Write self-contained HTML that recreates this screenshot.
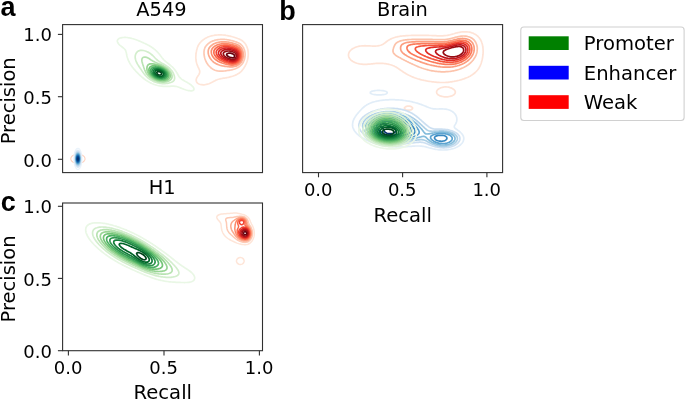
<!DOCTYPE html>
<html><head><meta charset="utf-8"><title>Precision-Recall density</title>
<style>html,body{margin:0;padding:0;background:#fff}svg{display:block;will-change:transform}text{fill:#000}</style>
</head><body>
<svg width="685" height="401" viewBox="0 0 685 401">
<rect width="685" height="401" fill="#ffffff"/>
<g fill="none" stroke-width="1.1" stroke-linejoin="round"><path d="M80.5,163.0L79.5,163.2L78.5,163.3L77.5,163.3L76.5,163.3L75.5,163.1L75.0,163.0L74.0,162.6L73.5,162.4L72.8,162.0L72.2,161.5L71.6,161.0L71.3,160.5L71.0,160.0L70.8,159.0L70.9,158.0L71.1,157.5L71.5,156.8L72.0,156.2L72.5,155.8L73.0,155.5L74.0,155.0L74.5,154.8L75.5,154.5L76.0,154.4L77.0,154.3L78.0,154.2L79.0,154.3L80.0,154.5L80.5,154.6L81.5,154.9L82.0,155.1L82.8,155.5L83.5,156.0L84.0,156.4L84.5,157.0L84.7,157.5L85.0,158.4L85.0,159.0L85.0,159.5L84.5,160.5L84.2,161.0L83.6,161.5L83.0,162.0L82.5,162.3L82.0,162.5L81.0,162.9L80.5,163.0Z" stroke="#fdd3c1"/></g>
<g fill="none" stroke-width="1.2" stroke-linejoin="round"><path d="M78.5,169.3L77.5,169.4L76.8,169.0L76.3,168.5L75.9,168.0L75.5,167.3L75.1,166.5L75.0,166.0L74.6,165.0L74.5,164.3L74.3,163.5L74.1,162.5L74.0,161.5L74.0,160.8L73.9,160.0L73.9,159.0L73.9,158.0L74.0,157.0L74.0,156.5L74.1,155.5L74.2,154.5L74.4,153.5L74.6,153.0L74.8,152.0L75.0,151.5L75.4,150.5L75.7,150.0L76.0,149.5L76.5,148.9L77.0,148.5L78.0,148.2L78.8,148.5L79.4,149.0L79.8,149.5L80.1,150.0L80.5,150.8L80.8,151.5L81.0,152.2L81.3,153.0L81.5,154.0L81.5,154.5L81.7,155.5L81.8,156.5L81.9,157.5L81.9,158.5L81.9,159.5L81.9,160.5L81.8,161.5L81.7,162.5L81.5,163.3L81.4,164.0L81.2,165.0L81.0,165.5L80.7,166.5L80.4,167.0L80.0,167.8L79.5,168.5L79.0,169.0L78.5,169.3Z" stroke="#eaf3fb"/><path d="M78.0,167.5L77.5,167.5L76.8,167.0L76.4,166.5L76.0,165.9L75.6,165.0L75.4,164.5L75.1,163.5L75.0,162.9L74.8,162.0L74.7,161.0L74.6,160.0L74.6,159.0L74.6,158.0L74.7,157.0L74.8,156.0L74.9,155.0L75.0,154.5L75.3,153.5L75.5,152.9L75.8,152.0L76.1,151.5L76.5,150.9L77.0,150.4L78.0,150.1L78.9,150.5L79.4,151.0L79.7,151.5L80.0,152.1L80.4,153.0L80.5,153.5L80.8,154.5L80.9,155.5L81.0,156.0L81.1,157.0L81.2,158.0L81.2,159.0L81.2,160.0L81.1,161.0L81.0,161.6L80.9,162.5L80.7,163.5L80.5,164.1L80.2,165.0L80.0,165.5L79.5,166.4L79.0,167.0L78.5,167.4L78.0,167.5Z" stroke="#deebf7"/><path d="M78.0,166.5L77.5,166.5L76.9,166.0L76.5,165.5L76.0,164.6L75.7,164.0L75.5,163.1L75.3,162.5L75.2,161.5L75.1,160.5L75.0,159.5L75.0,158.5L75.0,157.5L75.1,156.5L75.3,155.5L75.5,154.5L75.6,154.0L76.0,153.0L76.2,152.5L76.5,152.0L77.0,151.5L78.0,151.1L78.8,151.5L79.3,152.0L79.6,152.5L80.0,153.5L80.2,154.0L80.4,155.0L80.5,155.5L80.7,156.5L80.8,157.5L80.8,158.5L80.8,159.5L80.8,160.5L80.6,161.5L80.5,162.2L80.3,163.0L80.0,164.0L79.9,164.5L79.5,165.2L79.0,166.0L78.5,166.4L78.0,166.5Z" stroke="#d2e3f3"/><path d="M78.5,165.6L77.5,165.7L77.0,165.4L76.5,164.7L76.1,164.0L76.0,163.5L75.7,162.5L75.5,161.6L75.4,161.0L75.3,160.0L75.3,159.0L75.3,158.0L75.3,157.0L75.5,156.0L75.6,155.5L75.8,154.5L76.0,154.0L76.4,153.0L76.8,152.5L77.3,152.0L78.0,151.8L78.5,152.0L79.0,152.5L79.5,153.3L79.8,154.0L80.0,154.6L80.2,155.5L80.4,156.5L80.5,157.5L80.5,158.0L80.5,159.0L80.5,159.7L80.5,160.5L80.3,161.5L80.1,162.5L80.0,163.0L79.7,164.0L79.4,164.5L79.0,165.2L78.5,165.6Z" stroke="#c6dbef"/><path d="M78.0,165.2L77.4,165.0L76.8,164.5L76.5,164.0L76.1,163.0L75.9,162.5L75.7,161.5L75.6,160.5L75.5,159.5L75.5,158.5L75.5,157.5L75.7,156.5L75.8,155.5L76.0,154.9L76.3,154.0L76.6,153.5L77.0,152.9L77.5,152.5L78.2,152.5L78.9,153.0L79.2,153.5L79.5,154.0L79.8,155.0L80.0,155.7L80.1,156.5L80.3,157.5L80.3,158.5L80.3,159.5L80.2,160.5L80.1,161.5L80.0,162.0L79.7,163.0L79.5,163.6L79.0,164.5L78.5,165.0L78.0,165.2Z" stroke="#b2d2e8"/><path d="M78.0,164.7L77.4,164.5L76.9,164.0L76.5,163.3L76.2,162.5L76.0,161.7L75.9,161.0L75.7,160.0L75.7,159.0L75.7,158.0L75.8,157.0L76.0,156.0L76.1,155.5L76.4,154.5L76.6,154.0L77.0,153.5L77.7,153.0L78.1,153.0L78.8,153.5L79.2,154.0L79.5,154.8L79.7,155.5L79.9,156.5L80.0,157.1L80.1,158.0L80.1,159.0L80.1,160.0L80.0,160.5L79.9,161.5L79.6,162.5L79.4,163.0L79.0,163.9L78.5,164.4L78.0,164.7Z" stroke="#9dcae1"/><path d="M78.0,164.2L77.4,164.0L76.9,163.5L76.5,162.7L76.3,162.0L76.1,161.0L76.0,160.5L75.9,159.5L75.9,158.5L75.9,157.5L76.0,157.0L76.2,156.0L76.5,155.0L76.7,154.5L77.0,154.0L77.6,153.5L78.2,153.5L78.8,154.0L79.1,154.5L79.5,155.5L79.6,156.0L79.8,157.0L79.9,158.0L79.9,159.0L79.9,160.0L79.8,161.0L79.5,162.0L79.4,162.5L79.0,163.3L78.5,163.9L78.0,164.2Z" stroke="#84bcdb"/><path d="M78.0,163.7L77.4,163.5L76.9,163.0L76.5,162.0L76.3,161.5L76.2,160.5L76.1,159.5L76.1,158.5L76.1,157.5L76.3,156.5L76.5,155.6L76.7,155.0L77.0,154.5L77.5,154.0L78.3,154.0L78.8,154.5L79.1,155.0L79.4,156.0L79.5,156.5L79.7,157.5L79.8,158.5L79.7,159.5L79.6,160.5L79.5,161.3L79.3,162.0L79.0,162.8L78.5,163.5L78.0,163.7Z" stroke="#6aaed6"/><path d="M78.5,163.0L77.5,163.2L77.0,162.6L76.7,162.0L76.5,161.3L76.3,160.5L76.2,159.5L76.2,158.5L76.3,157.5L76.4,156.5L76.6,156.0L77.0,155.0L77.4,154.5L78.0,154.3L78.5,154.6L79.0,155.4L79.2,156.0L79.5,157.0L79.5,157.5L79.6,158.5L79.6,159.5L79.5,160.2L79.4,161.0L79.1,162.0L78.8,162.5L78.5,163.0Z" stroke="#56a0ce"/><path d="M78.5,162.6L77.5,162.8L77.0,162.1L76.8,161.5L76.5,160.5L76.4,160.0L76.4,159.0L76.4,158.0L76.5,157.1L76.6,156.5L77.0,155.5L77.4,155.0L78.0,154.7L78.5,155.0L79.0,155.9L79.2,156.5L79.4,157.5L79.4,158.5L79.4,159.5L79.3,160.5L79.1,161.5L78.8,162.0L78.5,162.6Z" stroke="#4191c6"/><path d="M78.5,162.1L77.5,162.3L77.0,161.6L76.8,161.0L76.6,160.0L76.5,159.0L76.6,158.0L76.7,157.0L77.0,156.0L77.3,155.5L78.0,155.1L78.5,155.5L79.0,156.5L79.1,157.0L79.2,158.0L79.3,159.0L79.2,160.0L79.0,161.0L78.8,161.5L78.5,162.1Z" stroke="#3181bd"/><path d="M78.0,162.1L77.5,161.9L77.0,161.0L76.9,160.5L76.7,159.5L76.7,158.5L76.8,157.5L77.0,156.6L77.3,156.0L78.0,155.5L78.5,156.0L78.9,157.0L79.0,157.5L79.1,158.5L79.1,159.5L79.0,160.2L78.8,161.0L78.5,161.6L78.0,162.1Z" stroke="#2070b4"/><path d="M78.0,161.6L77.5,161.4L77.1,160.5L76.9,160.0L76.9,159.0L76.9,158.0L77.0,157.3L77.3,156.5L78.0,156.0L78.0,156.0L78.5,156.5L78.8,157.5L78.9,158.5L78.9,159.5L78.7,160.5L78.5,161.1L78.0,161.6Z" stroke="#1460a8"/><path d="M78.0,161.1L77.5,160.9L77.2,160.0L77.0,159.0L77.1,158.0L77.4,157.0L77.9,156.5L78.0,156.5L78.5,157.1L78.7,158.0L78.8,159.0L78.6,160.0L78.5,160.5L78.0,161.1Z" stroke="#08509b"/><path d="M78.0,160.6L77.5,160.2L77.3,159.5L77.3,158.5L77.5,157.5L78.0,157.0L78.5,158.0L78.6,158.5L78.5,159.5L78.3,160.0L78.0,160.6Z" stroke="#084082"/><path d="M78.0,159.8L77.5,159.0L77.8,158.0L78.1,158.0L78.2,159.0L78.0,159.8Z" stroke="#08306b"/></g>
<g fill="none" stroke-width="1.7" stroke-linejoin="round"><path d="M192.5,90.6L191.5,90.8L190.5,90.8L189.5,90.7L188.5,90.6L188.0,90.5L187.0,90.2L186.2,90.0L185.5,89.8L184.6,89.5L184.0,89.3L183.3,89.0L182.5,88.7L182.0,88.5L181.0,88.1L180.5,87.9L179.5,87.5L179.0,87.3L178.1,87.0L177.5,86.8L176.5,86.5L176.0,86.4L175.0,86.3L174.0,86.2L173.0,86.2L172.0,86.2L171.0,86.2L170.0,86.3L169.0,86.3L168.0,86.4L167.0,86.4L166.0,86.4L165.0,86.4L164.0,86.4L163.0,86.3L162.0,86.2L161.0,86.1L160.4,86.0L159.5,85.9L158.5,85.7L157.8,85.5L157.0,85.3L156.0,85.0L155.5,84.9L154.5,84.5L154.0,84.4L153.0,84.0L152.5,83.8L151.8,83.5L151.0,83.1L150.5,82.9L149.8,82.5L149.0,82.1L148.5,81.8L148.0,81.5L147.2,81.0L146.5,80.6L146.0,80.2L145.5,79.9L145.0,79.5L144.3,79.0L143.7,78.5L143.1,78.0L142.5,77.5L142.0,77.1L141.5,76.7L141.0,76.2L140.5,75.8L140.0,75.3L139.5,74.8L139.0,74.3L138.5,73.9L138.0,73.4L137.5,72.9L137.0,72.4L136.5,71.8L136.0,71.3L135.5,70.8L135.0,70.2L134.5,69.7L134.0,69.1L133.5,68.5L133.1,68.0L132.7,67.5L132.3,67.0L132.0,66.5L131.5,65.9L131.0,65.1L130.6,64.5L130.3,64.0L130.0,63.5L129.5,62.6L129.2,62.0L128.9,61.5L128.5,60.6L128.2,60.0L128.0,59.4L127.7,58.5L127.5,58.0L127.2,57.0L127.0,56.2L126.8,55.5L126.6,54.5L126.5,53.8L126.4,53.0L126.1,52.0L126.0,51.5L125.6,50.5L125.3,50.0L125.0,49.5L124.5,49.0L124.0,48.5L123.5,48.0L122.8,47.5L122.2,47.0L121.5,46.5L121.0,46.1L120.5,45.7L120.0,45.3L119.5,44.8L119.0,44.3L118.5,43.8L118.0,43.1L117.7,42.5L117.5,42.0L117.3,41.0L117.5,40.2L117.9,39.5L118.4,39.0L119.0,38.6L119.5,38.3L120.4,38.0L121.0,37.8L122.0,37.6L123.0,37.5L123.5,37.5L124.5,37.4L125.5,37.4L126.5,37.5L127.0,37.5L128.0,37.7L129.0,37.8L130.0,38.0L130.5,38.1L131.5,38.3L132.2,38.5L133.0,38.7L133.9,39.0L134.5,39.2L135.4,39.5L136.0,39.7L136.8,40.0L137.5,40.3L138.1,40.5L139.0,40.9L139.5,41.1L140.5,41.5L141.0,41.7L141.6,42.0L142.5,42.4L143.0,42.6L143.8,43.0L144.5,43.3L145.0,43.5L146.0,44.0L146.5,44.3L147.0,44.5L147.9,45.0L148.5,45.3L149.0,45.6L149.7,46.0L150.5,46.5L151.0,46.8L151.5,47.1L152.1,47.5L152.8,48.0L153.5,48.5L154.0,48.9L154.5,49.3L155.0,49.7L155.5,50.2L156.0,50.6L156.5,51.1L157.0,51.6L157.5,52.1L158.0,52.6L158.5,53.2L159.0,53.8L159.5,54.4L160.0,55.0L160.4,55.5L160.7,56.0L161.1,56.5L161.5,57.0L162.0,57.7L162.5,58.3L163.0,58.9L163.5,59.5L164.0,60.0L164.5,60.5L165.0,60.9L165.5,61.4L166.0,61.8L166.5,62.2L167.0,62.6L167.5,63.0L168.2,63.5L168.8,64.0L169.4,64.5L170.0,65.0L170.5,65.4L171.0,65.8L171.5,66.3L172.0,66.7L172.5,67.2L173.0,67.7L173.5,68.2L174.0,68.8L174.5,69.4L175.0,70.0L175.4,70.5L175.7,71.0L176.1,71.5L176.5,72.2L177.0,73.0L177.3,73.5L177.5,74.0L178.0,74.8L178.4,75.5L178.7,76.0L179.0,76.5L179.5,77.1L180.0,77.7L180.5,78.2L181.0,78.7L181.5,79.1L182.1,79.5L182.9,80.0L183.5,80.4L184.0,80.6L184.6,81.0L185.5,81.5L186.0,81.7L186.5,82.0L187.4,82.5L188.0,82.9L188.5,83.2L189.0,83.5L189.7,84.0L190.4,84.5L191.0,84.9L191.5,85.4L192.0,85.8L192.5,86.3L193.0,86.9L193.4,87.5L193.7,88.0L194.0,89.0L194.0,89.0L193.7,90.0L193.0,90.5L192.5,90.6Z" stroke="#e9f7e5"/><path d="M166.0,83.5L165.0,83.6L164.0,83.7L163.0,83.6L162.0,83.6L161.2,83.5L160.5,83.4L159.5,83.3L158.5,83.0L158.0,82.9L157.0,82.7L156.5,82.5L155.5,82.2L155.0,82.0L154.0,81.6L153.5,81.4L152.8,81.0L152.0,80.6L151.5,80.3L151.0,80.0L150.2,79.5L149.5,79.0L149.0,78.7L148.5,78.3L148.0,77.9L147.5,77.5L147.0,77.0L146.5,76.5L146.0,76.0L145.5,75.5L145.0,74.9L144.5,74.3L144.0,73.7L143.5,73.0L143.1,72.5L142.8,72.0L142.4,71.5L142.0,70.9L141.5,70.1L141.1,69.5L140.7,69.0L140.4,68.5L140.0,67.9L139.5,67.2L139.0,66.5L138.7,66.0L138.4,65.5L138.0,64.9L137.5,64.1L137.2,63.5L136.9,63.0L136.5,62.1L136.2,61.5L136.0,61.0L135.7,60.0L135.5,59.3L135.3,58.5L135.2,57.5L135.2,56.5L135.3,55.5L135.5,54.8L135.8,54.0L136.0,53.5L136.5,52.7L137.0,52.1L137.5,51.6L138.0,51.2L138.5,50.9L139.5,50.6L140.0,50.4L141.0,50.3L142.0,50.4L143.0,50.5L143.5,50.5L144.5,50.8L145.3,51.0L146.0,51.2L146.6,51.5L147.5,51.9L148.0,52.1L148.7,52.5L149.5,53.0L150.0,53.3L150.5,53.7L151.0,54.1L151.5,54.5L152.1,55.0L152.7,55.5L153.2,56.0L153.7,56.5L154.2,57.0L154.6,57.5L155.1,58.0L155.6,58.5L156.1,59.0L156.6,59.5L157.2,60.0L157.8,60.5L158.5,61.0L159.0,61.3L159.5,61.7L160.0,62.0L160.8,62.5L161.5,62.9L162.0,63.2L162.6,63.5L163.4,64.0L164.0,64.3L164.5,64.6L165.1,65.0L165.9,65.5L166.5,65.9L167.0,66.2L167.5,66.6L168.0,67.0L168.6,67.5L169.2,68.0L169.8,68.5L170.3,69.0L170.7,69.5L171.2,70.0L171.6,70.5L172.0,71.1L172.5,71.8L172.9,72.5L173.2,73.0L173.5,73.7L173.8,74.5L174.0,75.0L174.3,76.0L174.5,77.0L174.6,77.5L174.6,78.5L174.5,79.1L174.2,80.0L173.9,80.5L173.5,81.0L172.8,81.5L172.0,82.0L171.5,82.2L170.7,82.5L170.0,82.7L169.1,83.0L168.5,83.1L167.5,83.3L166.5,83.5L166.0,83.5Z" stroke="#d3eecd"/><path d="M165.0,82.0L164.0,82.1L163.0,82.1L162.0,82.1L161.0,82.0L160.5,82.0L159.5,81.8L158.5,81.6L158.0,81.5L157.0,81.2L156.5,81.0L155.5,80.7L155.0,80.4L154.0,80.0L153.5,79.7L153.0,79.5L152.2,79.0L151.5,78.5L151.0,78.2L150.5,77.8L150.0,77.4L149.5,77.0L149.0,76.5L148.5,76.0L148.0,75.4L147.5,74.8L147.0,74.2L146.5,73.5L146.2,73.0L145.9,72.5L145.5,71.7L145.2,71.0L144.9,70.5L144.5,69.5L144.4,69.0L144.0,68.0L143.9,67.5L143.5,66.5L143.4,66.0L143.0,65.0L142.9,64.5L142.5,63.5L142.4,63.0L142.1,62.0L142.0,61.5L141.8,60.5L141.9,59.5L142.0,58.9L142.5,58.0L143.0,57.5L143.5,57.3L144.5,57.0L145.5,57.1L146.5,57.3L147.0,57.5L148.0,58.0L148.5,58.3L149.0,58.6L149.7,59.0L150.4,59.5L151.0,59.9L151.5,60.2L152.0,60.5L152.8,61.0L153.5,61.4L154.0,61.6L154.8,62.0L155.5,62.3L156.0,62.5L157.0,63.0L157.5,63.2L158.3,63.5L159.0,63.8L159.5,64.0L160.5,64.4L161.0,64.6L161.8,65.0L162.5,65.4L163.0,65.6L163.7,66.0L164.5,66.4L165.0,66.7L165.5,67.1L166.1,67.5L166.8,68.0L167.4,68.5L168.0,69.0L168.5,69.5L169.0,70.0L169.5,70.5L169.9,71.0L170.2,71.5L170.6,72.0L171.0,72.8L171.3,73.5L171.5,74.0L171.8,75.0L172.0,76.0L172.0,77.0L171.8,78.0L171.5,78.6L171.0,79.4L170.5,79.9L170.0,80.3L169.5,80.6L168.8,81.0L168.0,81.3L167.5,81.5L166.5,81.8L165.5,81.9L165.0,82.0Z" stroke="#b8e3b2"/><path d="M165.5,80.6L164.5,80.8L163.5,80.9L162.5,81.0L161.5,80.9L160.5,80.9L159.5,80.7L158.6,80.5L158.0,80.4L157.0,80.1L156.5,79.9L155.6,79.5L155.0,79.3L154.5,79.0L153.6,78.5L153.0,78.1L152.5,77.8L152.0,77.4L151.4,77.0L150.9,76.5L150.3,76.0L149.9,75.5L149.4,75.0L149.0,74.4L148.5,73.7L148.1,73.0L147.9,72.5L147.5,71.6L147.3,71.0L147.0,70.0L147.0,69.5L146.9,68.5L147.0,67.5L147.0,67.0L147.4,66.0L147.6,65.5L148.0,65.0L148.6,64.5L149.5,64.1L150.0,63.9L151.0,63.8L152.0,63.8L153.0,63.9L153.7,64.0L154.5,64.1L155.5,64.3L156.3,64.5L157.0,64.7L158.0,64.9L158.5,65.1L159.5,65.4L160.0,65.6L161.0,66.0L161.5,66.2L162.1,66.5L163.0,66.9L163.5,67.2L164.0,67.5L164.8,68.0L165.5,68.5L166.0,68.8L166.5,69.2L167.0,69.7L167.5,70.2L168.0,70.7L168.5,71.3L169.0,72.0L169.3,72.5L169.5,73.0L169.9,74.0L170.1,74.5L170.2,75.5L170.2,76.5L170.0,77.3L169.7,78.0L169.3,78.5L168.8,79.0L168.2,79.5L167.5,79.9L167.0,80.1L166.0,80.5L165.5,80.6Z" stroke="#98d594"/><path d="M165.0,79.6L164.0,79.8L163.0,80.0L162.0,80.0L161.0,80.0L160.0,79.8L159.0,79.7L158.3,79.5L157.5,79.3L156.8,79.0L156.0,78.7L155.5,78.5L154.6,78.0L154.0,77.6L153.5,77.3L153.0,76.9L152.4,76.5L151.9,76.0L151.4,75.5L150.9,75.0L150.5,74.4L150.0,73.7L149.6,73.0L149.4,72.5L149.1,71.5L149.0,71.0L148.9,70.0L149.0,69.1L149.2,68.5L149.5,67.8L150.0,67.1L150.5,66.7L151.0,66.4L152.0,66.0L152.5,65.9L153.5,65.7L154.5,65.7L155.5,65.7L156.5,65.9L157.3,66.0L158.0,66.1L159.0,66.4L159.5,66.6L160.5,66.9L161.0,67.1L162.0,67.5L162.5,67.8L163.0,68.0L163.8,68.5L164.5,68.9L165.0,69.3L165.5,69.7L166.0,70.1L166.5,70.6L167.0,71.2L167.5,71.8L167.9,72.5L168.2,73.0L168.5,73.8L168.7,74.5L168.8,75.5L168.6,76.5L168.5,77.0L168.0,77.7L167.5,78.3L167.0,78.7L166.5,79.0L165.5,79.4L165.0,79.6Z" stroke="#73c476"/><path d="M162.5,79.1L161.5,79.1L160.5,79.0L160.0,79.0L159.0,78.8L158.0,78.5L157.5,78.4L156.5,78.0L156.0,77.8L155.5,77.5L154.7,77.0L154.0,76.5L153.5,76.2L153.0,75.7L152.5,75.2L152.0,74.6L151.5,74.0L151.2,73.5L151.0,73.0L150.7,72.0L150.5,71.0L150.6,70.0L151.0,69.0L151.3,68.5L151.9,68.0L152.5,67.6L153.0,67.4L154.0,67.1L154.7,67.0L155.5,66.9L156.5,67.0L157.0,67.0L158.0,67.2L159.0,67.4L159.5,67.5L160.5,67.9L161.0,68.1L162.0,68.5L162.5,68.8L163.0,69.0L163.7,69.5L164.4,70.0L165.0,70.5L165.5,71.0L166.0,71.5L166.4,72.0L166.7,72.5L167.0,73.1L167.3,74.0L167.5,75.0L167.4,76.0L167.0,76.8L166.5,77.5L166.0,77.9L165.5,78.2L164.9,78.5L164.0,78.8L163.0,79.0L162.5,79.1Z" stroke="#4bb062"/><path d="M163.0,78.0L162.0,78.2L161.0,78.2L160.0,78.1L159.2,78.0L158.5,77.8L157.5,77.5L157.0,77.3L156.3,77.0L155.5,76.5L155.0,76.2L154.5,75.8L154.0,75.4L153.5,74.9L153.0,74.3L152.5,73.5L152.3,73.0L152.0,72.0L151.9,71.5L152.0,70.8L152.3,70.0L152.6,69.5L153.1,69.0L153.9,68.5L154.5,68.3L155.5,68.1L156.5,68.0L157.5,68.1L158.5,68.2L159.5,68.5L160.0,68.6L161.0,69.0L161.5,69.2L162.1,69.5L162.9,70.0L163.5,70.4L164.0,70.8L164.5,71.3L165.0,71.8L165.5,72.5L165.8,73.0L166.0,73.5L166.2,74.5L166.1,75.5L166.0,76.0L165.5,76.7L165.0,77.2L164.5,77.5L163.5,77.9L163.0,78.0Z" stroke="#2f974e"/><path d="M162.5,77.1L161.5,77.3L160.5,77.3L159.5,77.2L158.6,77.0L158.0,76.8L157.3,76.5L156.5,76.1L156.0,75.8L155.5,75.4L155.0,75.0L154.5,74.5L154.0,73.8L153.6,73.0L153.4,72.5L153.4,71.5L153.5,71.0L154.0,70.2L154.5,69.8L155.0,69.5L156.0,69.2L157.0,69.1L158.0,69.1L159.0,69.3L159.9,69.5L160.5,69.7L161.2,70.0L162.0,70.4L162.5,70.8L163.0,71.1L163.5,71.6L164.0,72.1L164.5,72.9L164.8,73.5L165.0,74.5L164.7,75.5L164.4,76.0L163.9,76.5L163.0,77.0L162.5,77.1Z" stroke="#157f3b"/><path d="M162.0,76.1L161.0,76.3L160.0,76.3L159.0,76.1L158.5,76.0L157.5,75.6L157.0,75.3L156.5,75.0L156.0,74.5L155.5,74.0L155.0,73.0L154.9,72.5L155.0,71.6L155.4,71.0L156.0,70.5L156.5,70.3L157.5,70.2L158.5,70.2L159.5,70.4L160.0,70.5L161.0,71.0L161.5,71.3L162.0,71.6L162.5,72.0L163.0,72.7L163.4,73.5L163.5,74.0L163.5,74.6L163.0,75.5L162.5,75.9L162.0,76.1Z" stroke="#006428"/><path d="M160.0,75.0L159.5,75.0L158.5,74.7L158.0,74.4L157.4,74.0L157.0,73.4L156.8,72.5L157.1,72.0L158.0,71.6L159.0,71.6L160.0,71.9L160.5,72.1L161.0,72.5L161.5,73.2L161.7,74.0L161.4,74.5L160.5,75.0L160.0,75.0Z" stroke="#00441b"/></g>
<g fill="none" stroke-width="1.7" stroke-linejoin="round"><path d="M206.0,84.5L205.0,84.7L204.0,84.8L203.0,84.8L202.0,84.7L201.0,84.6L200.5,84.5L199.5,84.2L199.0,84.0L198.1,83.5L197.5,83.1L197.0,82.6L196.6,82.0L196.4,81.5L196.2,80.5L196.2,79.5L196.5,78.5L196.7,78.0L197.0,77.4L197.5,76.6L197.9,76.0L198.2,75.5L198.6,75.0L199.0,74.3L199.4,73.5L199.6,73.0L199.7,72.0L199.7,71.0L199.5,70.3L199.2,69.5L199.0,69.0L198.6,68.0L198.3,67.5L198.0,66.8L197.7,66.0L197.4,65.5L197.1,64.5L196.9,64.0L196.6,63.0L196.5,62.5L196.2,61.5L196.1,60.5L196.0,60.0L195.9,59.0L195.8,58.0L195.8,57.0L195.9,56.0L195.9,55.0L196.0,54.1L196.1,53.5L196.2,52.5L196.4,51.5L196.5,50.9L196.7,50.0L197.0,49.0L197.1,48.5L197.4,47.5L197.6,47.0L198.0,46.1L198.3,45.5L198.5,45.0L199.0,44.3L199.5,43.5L199.9,43.0L200.3,42.5L200.8,42.0L201.2,41.5L201.8,41.0L202.3,40.5L202.9,40.0L203.5,39.6L204.0,39.2L204.5,38.9L205.1,38.5L206.0,38.0L206.5,37.7L207.0,37.5L208.0,37.0L208.5,36.8L209.5,36.5L210.0,36.3L211.0,36.0L211.5,35.9L212.5,35.7L213.3,35.5L214.0,35.4L215.0,35.2L216.0,35.1L217.0,35.0L217.5,35.0L218.5,34.9L219.5,34.9L220.5,34.9L221.5,34.9L222.5,35.0L223.0,35.0L224.0,35.1L225.0,35.2L226.0,35.4L226.8,35.5L227.5,35.6L228.5,35.8L229.4,36.0L230.0,36.1L231.0,36.4L231.5,36.5L232.5,36.8L233.3,37.0L234.0,37.2L234.9,37.5L235.5,37.7L236.4,38.0L237.0,38.2L237.7,38.5L238.5,38.8L239.0,39.0L240.0,39.4L240.5,39.7L241.1,40.0L241.9,40.5L242.5,41.0L243.0,41.4L243.5,41.8L244.0,42.3L244.5,42.9L245.0,43.5L245.4,44.0L245.7,44.5L246.0,45.0L246.5,46.0L246.7,46.5L247.0,47.1L247.3,48.0L247.5,48.6L247.8,49.5L248.0,50.5L248.0,51.0L248.2,52.0L248.2,53.0L248.3,54.0L248.2,55.0L248.2,56.0L248.1,57.0L248.0,57.5L247.8,58.5L247.6,59.5L247.5,60.0L247.2,61.0L247.0,61.7L246.7,62.5L246.5,63.1L246.1,64.0L245.9,64.5L245.5,65.2L245.1,66.0L244.8,66.5L244.5,67.0L244.0,67.8L243.6,68.5L243.2,69.0L242.8,69.5L242.4,70.0L242.0,70.5L241.5,71.1L241.0,71.6L240.5,72.0L240.0,72.5L239.3,73.0L238.6,73.5L238.0,73.8L237.5,74.1L236.8,74.5L236.0,74.9L235.5,75.1L234.6,75.5L234.0,75.7L233.2,76.0L232.5,76.2L231.6,76.5L231.0,76.7L230.0,76.9L229.5,77.1L228.5,77.3L227.6,77.5L227.0,77.6L226.0,77.8L225.0,78.0L224.5,78.1L223.5,78.2L222.5,78.4L222.0,78.5L221.0,78.7L220.0,78.9L219.5,79.0L218.5,79.3L217.7,79.5L217.0,79.8L216.4,80.0L215.5,80.4L215.0,80.7L214.4,81.0L213.5,81.5L213.0,81.8L212.5,82.0L211.6,82.5L211.0,82.8L210.5,83.0L209.5,83.5L209.0,83.7L208.0,84.0L207.5,84.2L206.5,84.4L206.0,84.5Z" stroke="#fee5d8"/><path d="M224.0,71.0L223.0,71.1L222.0,71.2L221.0,71.2L220.0,71.2L219.0,71.1L218.3,71.0L217.5,70.9L216.5,70.7L215.9,70.5L215.0,70.2L214.5,70.0L213.5,69.5L213.0,69.2L212.5,68.9L211.9,68.5L211.2,68.0L210.6,67.5L210.1,67.0L209.6,66.5L209.1,66.0L208.6,65.5L208.2,65.0L207.8,64.5L207.5,64.0L207.0,63.3L206.5,62.5L206.3,62.0L206.0,61.5L205.6,60.5L205.4,60.0L205.0,59.0L204.9,58.5L204.6,57.5L204.5,57.0L204.3,56.0L204.1,55.0L204.0,54.0L204.0,53.5L204.0,52.5L204.0,51.7L204.1,51.0L204.2,50.0L204.5,49.0L204.6,48.5L205.0,47.6L205.3,47.0L205.6,46.5L206.0,46.0L206.5,45.3L207.0,44.8L207.5,44.3L208.0,43.8L208.5,43.4L209.1,43.0L209.8,42.5L210.5,42.1L211.0,41.8L211.6,41.5L212.5,41.1L213.0,40.9L214.0,40.6L214.5,40.4L215.5,40.1L216.0,40.0L217.0,39.8L218.0,39.6L219.0,39.5L219.5,39.5L220.5,39.4L221.5,39.3L222.5,39.3L223.5,39.4L224.5,39.4L225.5,39.5L226.0,39.5L227.0,39.7L228.0,39.8L229.0,40.0L229.5,40.1L230.5,40.3L231.3,40.5L232.0,40.7L233.0,40.9L233.5,41.1L234.5,41.4L235.0,41.6L236.0,41.9L236.5,42.1L237.5,42.5L238.0,42.7L238.7,43.0L239.5,43.4L240.0,43.7L240.5,44.1L241.0,44.5L241.5,45.0L242.0,45.5L242.5,46.1L243.0,46.9L243.4,47.5L243.7,48.0L244.0,48.8L244.3,49.5L244.5,50.2L244.7,51.0L244.9,52.0L245.0,52.8L245.1,53.5L245.1,54.5L245.1,55.5L245.0,56.2L244.9,57.0L244.7,58.0L244.5,59.0L244.4,59.5L244.0,60.5L243.8,61.0L243.5,61.8L243.1,62.5L242.8,63.0L242.5,63.5L242.0,64.1L241.5,64.7L241.0,65.2L240.5,65.7L240.0,66.1L239.5,66.5L238.8,67.0L238.0,67.5L237.5,67.8L237.0,68.0L236.0,68.5L235.5,68.7L234.7,69.0L234.0,69.2L233.0,69.5L232.5,69.6L231.5,69.9L230.7,70.0L230.0,70.1L229.0,70.3L228.0,70.4L227.5,70.5L226.5,70.7L225.5,70.8L224.5,71.0L224.0,71.0Z" stroke="#fdcab5"/><path d="M234.5,66.5L233.5,66.7L232.5,66.9L231.5,66.9L230.5,66.9L229.5,66.8L228.5,66.7L227.5,66.6L226.7,66.5L226.0,66.4L225.0,66.3L224.0,66.1L223.2,66.0L222.5,65.9L221.5,65.7L220.9,65.5L220.0,65.3L219.2,65.0L218.5,64.8L217.9,64.5L217.0,64.1L216.5,63.9L215.8,63.5L215.0,63.0L214.5,62.7L214.0,62.4L213.5,62.0L212.9,61.5L212.4,61.0L211.9,60.5L211.5,60.0L211.0,59.4L210.5,58.7L210.0,58.0L209.7,57.5L209.5,57.0L209.0,56.0L208.8,55.5L208.5,54.5L208.4,54.0L208.2,53.0L208.2,52.0L208.2,51.0L208.4,50.0L208.5,49.5L208.9,48.5L209.2,48.0L209.5,47.5L210.0,46.9L210.5,46.4L211.0,45.9L211.5,45.4L212.1,45.0L212.8,44.5L213.5,44.1L214.0,43.8L214.7,43.5L215.5,43.1L216.0,43.0L217.0,42.6L217.5,42.5L218.5,42.3L219.5,42.1L220.0,42.0L221.0,41.9L222.0,41.8L223.0,41.8L224.0,41.8L225.0,41.8L226.0,41.9L227.0,42.0L227.5,42.0L228.5,42.2L229.5,42.4L230.2,42.5L231.0,42.7L232.0,42.9L232.5,43.1L233.5,43.3L234.0,43.5L235.0,43.8L235.5,44.0L236.5,44.4L237.0,44.6L238.0,45.0L238.5,45.3L239.0,45.6L239.5,46.0L240.1,46.5L240.6,47.0L241.0,47.5L241.5,48.2L242.0,49.0L242.2,49.5L242.5,50.2L242.8,51.0L243.0,51.9L243.1,52.5L243.2,53.5L243.3,54.5L243.3,55.5L243.2,56.5L243.0,57.5L242.9,58.0L242.7,59.0L242.5,59.5L242.1,60.5L241.9,61.0L241.5,61.7L241.0,62.4L240.5,63.0L240.0,63.5L239.5,64.0L239.0,64.4L238.5,64.8L238.0,65.1L237.3,65.5L236.5,65.9L236.0,66.1L235.0,66.4L234.5,66.5Z" stroke="#fcab8f"/><path d="M234.0,65.0L233.0,65.2L232.0,65.2L231.0,65.1L230.0,65.0L229.5,64.9L228.5,64.7L227.5,64.5L227.0,64.4L226.0,64.2L225.3,64.0L224.5,63.8L223.5,63.5L223.0,63.3L222.0,63.0L221.5,62.8L220.6,62.5L220.0,62.2L219.5,62.0L218.5,61.5L218.0,61.2L217.5,60.9L216.9,60.5L216.2,60.0L215.5,59.5L215.0,59.1L214.5,58.6L214.0,58.1L213.5,57.5L213.1,57.0L212.8,56.5L212.5,56.0L212.0,55.1L211.8,54.5L211.5,53.7L211.4,53.0L211.3,52.0L211.3,51.0L211.5,50.2L211.8,49.5L212.0,49.0L212.5,48.3L213.0,47.7L213.5,47.2L214.0,46.8L214.5,46.4L215.1,46.0L216.0,45.5L216.5,45.2L217.0,45.0L218.0,44.6L218.5,44.5L219.5,44.2L220.3,44.0L221.0,43.9L222.0,43.7L223.0,43.7L224.0,43.6L225.0,43.6L226.0,43.7L227.0,43.7L228.0,43.8L229.0,44.0L229.5,44.1L230.5,44.3L231.4,44.5L232.0,44.6L233.0,44.9L233.5,45.1L234.5,45.4L235.0,45.6L236.0,45.9L236.5,46.1L237.3,46.5L238.0,46.9L238.5,47.2L239.0,47.7L239.5,48.2L240.0,48.8L240.5,49.5L240.8,50.0L241.0,50.5L241.4,51.5L241.6,52.0L241.8,53.0L241.9,54.0L241.9,55.0L241.9,56.0L241.8,57.0L241.5,58.0L241.4,58.5L241.1,59.5L240.9,60.0L240.5,60.7L240.0,61.4L239.5,62.0L239.1,62.5L238.5,63.0L238.0,63.4L237.5,63.7L237.0,64.0L236.0,64.5L235.5,64.6L234.5,64.9L234.0,65.0Z" stroke="#fc8a6a"/><path d="M235.0,63.5L234.0,63.8L233.0,63.9L232.0,63.9L231.0,63.8L230.0,63.6L229.5,63.5L228.5,63.2L227.6,63.0L227.0,62.8L226.0,62.6L225.5,62.4L224.5,62.1L224.0,61.9L223.0,61.5L222.5,61.3L221.8,61.0L221.0,60.6L220.5,60.4L219.8,60.0L219.0,59.5L218.5,59.1L218.0,58.8L217.5,58.4L217.0,57.9L216.5,57.5L216.0,56.9L215.5,56.3L215.0,55.6L214.6,55.0L214.4,54.5L214.0,53.5L213.9,53.0L213.9,52.0L214.0,51.0L214.1,50.5L214.5,49.8L215.0,49.1L215.5,48.5L216.0,48.1L216.5,47.7L217.0,47.3L217.5,47.0L218.5,46.5L219.0,46.3L219.8,46.0L220.5,45.8L221.5,45.5L222.0,45.4L223.0,45.3L224.0,45.2L225.0,45.2L226.0,45.2L227.0,45.2L228.0,45.3L229.0,45.5L229.5,45.6L230.5,45.7L231.5,46.0L232.0,46.1L233.0,46.4L233.5,46.5L234.5,46.9L235.0,47.1L236.0,47.4L236.5,47.7L237.1,48.0L237.9,48.5L238.4,49.0L238.9,49.5L239.3,50.0L239.6,50.5L240.0,51.3L240.3,52.0L240.5,52.9L240.6,53.5L240.7,54.5L240.7,55.5L240.7,56.5L240.5,57.4L240.4,58.0L240.0,59.0L239.8,59.5L239.5,60.1L239.0,60.8L238.5,61.4L238.0,61.9L237.5,62.3L237.0,62.6L236.3,63.0L235.5,63.4L235.0,63.5Z" stroke="#fb694a"/><path d="M234.5,62.5L233.5,62.7L232.5,62.8L231.5,62.7L230.5,62.5L230.0,62.4L229.0,62.1L228.5,62.0L227.5,61.7L226.9,61.5L226.0,61.2L225.4,61.0L224.5,60.6L224.0,60.4L223.0,60.0L222.5,59.7L222.0,59.5L221.2,59.0L220.5,58.6L220.0,58.2L219.5,57.8L219.0,57.4L218.5,56.9L218.0,56.4L217.5,55.8L217.0,55.0L216.7,54.5L216.5,54.0L216.3,53.0L216.2,52.0L216.5,51.0L216.7,50.5L217.1,50.0L217.6,49.5L218.1,49.0L218.8,48.5L219.5,48.1L220.0,47.8L220.7,47.5L221.5,47.2L222.4,47.0L223.0,46.9L224.0,46.7L225.0,46.6L226.0,46.6L227.0,46.6L228.0,46.7L229.0,46.8L230.0,47.0L230.5,47.1L231.5,47.3L232.2,47.5L233.0,47.7L233.8,48.0L234.5,48.2L235.2,48.5L236.0,48.9L236.5,49.1L237.1,49.5L237.6,50.0L238.1,50.5L238.5,51.1L239.0,52.0L239.2,52.5L239.5,53.5L239.6,54.0L239.7,55.0L239.6,56.0L239.5,57.0L239.4,57.5L239.1,58.5L238.9,59.0L238.5,59.7L238.0,60.4L237.5,60.9L237.0,61.3L236.5,61.7L235.9,62.0L235.0,62.4L234.5,62.5Z" stroke="#f14432"/><path d="M234.0,61.6L233.0,61.7L232.0,61.7L231.0,61.5L230.5,61.4L229.5,61.1L229.0,61.0L228.0,60.7L227.5,60.5L226.5,60.1L226.0,60.0L225.0,59.5L224.5,59.3L223.9,59.0L223.0,58.5L222.5,58.2L222.0,57.9L221.5,57.5L220.9,57.0L220.4,56.5L219.9,56.0L219.5,55.5L219.0,54.7L218.7,54.0L218.5,53.2L218.5,52.5L218.6,52.0L219.0,51.1L219.5,50.5L220.0,50.0L220.5,49.6L221.0,49.3L221.6,49.0L222.5,48.7L223.0,48.5L224.0,48.3L225.0,48.1L226.0,48.0L227.0,48.0L228.0,48.1L229.0,48.2L230.0,48.3L231.0,48.5L231.5,48.6L232.5,48.9L233.0,49.0L234.0,49.4L234.5,49.6L235.5,50.0L236.0,50.3L236.5,50.6L237.0,51.1L237.5,51.7L238.0,52.5L238.2,53.0L238.5,54.0L238.5,54.5L238.6,55.5L238.5,56.5L238.4,57.0L238.2,58.0L238.0,58.5L237.5,59.3L237.0,60.0L236.5,60.4L236.0,60.8L235.5,61.1L234.5,61.5L234.0,61.6Z" stroke="#d92523"/><path d="M234.0,60.5L233.0,60.7L232.0,60.6L231.4,60.5L230.5,60.3L229.5,60.0L229.0,59.8L228.0,59.5L227.5,59.3L226.7,59.0L226.0,58.7L225.5,58.4L224.7,58.0L224.0,57.6L223.5,57.2L223.0,56.8L222.5,56.4L222.0,55.9L221.5,55.3L221.0,54.5L220.9,54.0L220.7,53.0L221.0,52.2L221.5,51.5L222.0,51.0L222.5,50.7L223.0,50.4L223.9,50.0L224.5,49.8L225.5,49.6L226.2,49.5L227.0,49.4L228.0,49.4L228.8,49.5L229.5,49.6L230.5,49.7L231.5,50.0L232.0,50.1L233.0,50.4L233.5,50.6L234.5,51.0L235.0,51.2L235.5,51.5L236.1,52.0L236.6,52.5L237.0,53.3L237.3,54.0L237.5,55.0L237.5,56.0L237.3,57.0L237.0,58.0L236.8,58.5L236.4,59.0L235.9,59.5L235.2,60.0L234.5,60.3L234.0,60.5Z" stroke="#bc141a"/><path d="M234.5,59.1L233.5,59.4L232.5,59.5L231.5,59.3L230.5,59.1L230.0,58.9L229.0,58.6L228.5,58.4L227.5,58.0L227.0,57.7L226.5,57.5L225.7,57.0L225.0,56.5L224.5,56.0L224.0,55.5L223.7,55.0L223.4,54.5L223.3,53.5L223.5,52.9L224.0,52.3L224.5,52.0L225.4,51.5L226.0,51.3L227.0,51.1L228.0,51.0L229.0,51.0L230.0,51.1L231.0,51.3L231.7,51.5L232.5,51.7L233.2,52.0L234.0,52.3L234.5,52.6L235.1,53.0L235.6,53.5L236.0,54.3L236.2,55.0L236.3,56.0L236.1,57.0L235.9,57.5L235.5,58.2L235.0,58.7L234.5,59.1Z" stroke="#980c13"/><path d="M233.5,57.8L232.5,57.9L231.5,57.7L230.5,57.5L230.0,57.3L229.2,57.0L228.5,56.6L228.0,56.3L227.5,56.0L227.0,55.4L226.6,54.5L227.0,53.8L227.5,53.5L228.5,53.2L229.5,53.1L230.5,53.2L231.5,53.4L232.0,53.6L233.0,54.0L233.5,54.3L234.0,54.7L234.5,55.5L234.5,56.0L234.5,56.6L234.0,57.5L233.5,57.8Z" stroke="#67000d"/></g>
<g fill="none" stroke-width="1.7" stroke-linejoin="round"><path d="M444.5,82.5L443.5,82.5L442.5,82.5L441.5,82.5L441.0,82.5L440.0,82.5L439.0,82.4L438.0,82.3L437.0,82.3L436.0,82.2L435.0,82.1L434.4,82.0L433.5,81.9L432.5,81.8L431.5,81.7L430.5,81.5L430.0,81.5L429.0,81.3L428.0,81.2L427.1,81.0L426.5,80.9L425.5,80.7L424.5,80.5L424.0,80.4L423.0,80.2L422.3,80.0L421.5,79.8L420.5,79.6L420.0,79.4L419.0,79.1L418.5,79.0L417.5,78.7L416.9,78.5L416.0,78.2L415.4,78.0L414.5,77.7L414.0,77.5L413.0,77.1L412.5,76.9L411.6,76.5L411.0,76.2L410.5,76.0L409.5,75.5L409.0,75.3L408.4,75.0L407.5,74.5L407.0,74.2L406.5,74.0L405.7,73.5L405.0,73.1L404.5,72.8L404.0,72.4L403.3,72.0L402.6,71.5L402.0,71.1L401.5,70.8L401.0,70.4L400.4,70.0L399.7,69.5L399.0,69.0L398.5,68.7L398.0,68.3L397.5,68.0L396.7,67.5L396.0,67.1L395.5,66.8L394.9,66.5L394.0,66.0L393.5,65.8L392.7,65.5L392.0,65.2L391.4,65.0L390.5,64.7L389.7,64.5L389.0,64.3L388.0,64.1L387.4,64.0L386.5,63.8L385.5,63.7L384.5,63.6L384.0,63.5L383.0,63.4L382.0,63.3L381.0,63.3L380.0,63.3L379.0,63.3L378.0,63.3L377.0,63.4L376.0,63.4L375.2,63.5L374.5,63.6L373.5,63.7L372.5,63.8L371.5,63.9L370.6,64.0L370.0,64.1L369.0,64.2L368.0,64.2L367.0,64.3L366.0,64.3L365.0,64.4L364.0,64.3L363.0,64.3L362.0,64.2L361.0,64.1L360.2,64.0L359.5,63.9L358.5,63.7L357.8,63.5L357.0,63.3L356.1,63.0L355.5,62.8L354.9,62.5L354.0,62.1L353.5,61.8L352.9,61.5L352.2,61.0L351.5,60.5L351.0,60.1L350.5,59.6L350.0,59.0L349.6,58.5L349.3,58.0L349.0,57.4L348.7,56.5L348.5,55.5L348.5,55.0L348.5,54.5L348.7,53.5L349.0,52.7L349.3,52.0L349.6,51.5L350.0,51.0L350.5,50.5L351.0,50.0L351.5,49.5L352.2,49.0L353.0,48.5L353.5,48.2L354.0,48.0L355.0,47.5L355.5,47.3L356.3,47.0L357.0,46.8L358.0,46.5L358.5,46.4L359.5,46.2L360.5,46.0L361.0,46.0L362.0,45.9L363.0,45.8L364.0,45.8L365.0,45.7L366.0,45.8L367.0,45.8L368.0,45.8L369.0,45.9L370.0,45.9L370.9,46.0L371.5,46.0L372.5,46.1L373.5,46.1L374.5,46.1L375.5,46.1L376.5,46.0L377.0,46.0L378.0,45.8L379.0,45.7L379.7,45.5L380.5,45.3L381.3,45.0L382.0,44.7L382.5,44.5L383.4,44.0L384.0,43.6L384.5,43.3L385.0,42.9L385.5,42.5L386.1,42.0L386.7,41.5L387.4,41.0L388.0,40.6L388.5,40.3L389.0,39.9L389.8,39.5L390.5,39.1L391.0,38.9L391.8,38.5L392.5,38.2L393.1,38.0L394.0,37.7L394.6,37.5L395.5,37.2L396.5,37.0L397.0,36.9L398.0,36.7L398.9,36.5L399.5,36.4L400.5,36.2L401.5,36.1L402.5,36.0L403.0,35.9L404.0,35.8L405.0,35.8L406.0,35.7L407.0,35.6L408.0,35.6L409.0,35.5L409.8,35.5L410.5,35.5L411.5,35.4L412.5,35.4L413.5,35.4L414.5,35.4L415.5,35.3L416.5,35.3L417.5,35.3L418.5,35.3L419.5,35.3L420.5,35.3L421.5,35.3L422.5,35.3L423.5,35.3L424.5,35.3L425.5,35.3L426.5,35.4L427.5,35.4L428.5,35.4L429.5,35.5L430.5,35.5L431.0,35.5L432.0,35.6L433.0,35.6L434.0,35.6L435.0,35.7L436.0,35.7L437.0,35.8L438.0,35.8L439.0,35.8L440.0,35.8L441.0,35.8L442.0,35.8L443.0,35.8L444.0,35.7L445.0,35.7L446.0,35.5L446.5,35.5L447.5,35.3L448.5,35.1L449.0,35.0L450.0,34.8L451.0,34.5L451.5,34.4L452.5,34.1L453.0,34.0L454.0,33.7L454.6,33.5L455.5,33.2L456.4,33.0L457.0,32.8L458.0,32.6L458.5,32.5L459.5,32.3L460.5,32.1L461.4,32.0L462.0,31.9L463.0,31.8L464.0,31.8L465.0,31.8L466.0,31.8L467.0,31.8L468.0,32.0L468.5,32.0L469.5,32.2L470.5,32.4L471.0,32.5L472.0,32.9L472.5,33.0L473.5,33.4L474.0,33.7L474.6,34.0L475.5,34.5L476.0,34.8L476.5,35.2L477.0,35.6L477.5,36.0L478.1,36.5L478.5,37.0L479.0,37.5L479.5,38.2L480.0,38.9L480.4,39.5L480.7,40.0L481.0,40.7L481.4,41.5L481.6,42.0L481.9,43.0L482.1,43.5L482.4,44.5L482.5,45.1L482.7,46.0L482.8,47.0L483.0,48.0L483.0,48.5L483.1,49.5L483.1,50.5L483.2,51.5L483.1,52.5L483.1,53.5L483.0,54.5L482.9,55.0L482.8,56.0L482.7,57.0L482.5,58.0L482.4,58.5L482.2,59.5L482.0,60.3L481.8,61.0L481.5,62.0L481.4,62.5L481.1,63.5L480.9,64.0L480.5,65.0L480.3,65.5L480.0,66.1L479.5,67.0L479.3,67.5L479.0,68.0L478.5,68.7L478.0,69.4L477.6,70.0L477.1,70.5L476.7,71.0L476.2,71.5L475.7,72.0L475.2,72.5L474.6,73.0L474.0,73.5L473.5,73.9L473.0,74.3L472.5,74.6L471.9,75.0L471.1,75.5L470.5,75.9L470.0,76.2L469.3,76.5L468.5,76.9L468.0,77.2L467.3,77.5L466.5,77.8L466.0,78.0L465.0,78.4L464.5,78.6L463.5,79.0L463.0,79.1L462.0,79.5L461.5,79.6L460.5,79.9L460.0,80.0L459.0,80.3L458.1,80.5L457.5,80.6L456.5,80.9L455.8,81.0L455.0,81.2L454.0,81.4L453.2,81.5L452.5,81.6L451.5,81.8L450.5,81.9L450.0,82.0L449.0,82.1L448.0,82.3L447.0,82.4L446.0,82.4L445.0,82.5L444.5,82.5ZM449.5,96.5L448.5,96.7L447.5,96.8L446.5,96.9L445.5,96.9L444.5,96.8L443.5,96.7L442.5,96.5L442.0,96.4L441.0,96.2L440.5,96.0L439.5,95.6L439.0,95.3L438.4,95.0L437.8,94.5L437.3,94.0L436.9,93.5L436.6,92.5L436.6,91.5L437.0,90.6L437.4,90.0L437.9,89.5L438.5,89.0L439.0,88.7L439.5,88.4L440.3,88.0L441.0,87.7L441.7,87.5L442.5,87.3L443.5,87.1L444.1,87.0L445.0,86.9L446.0,86.9L447.0,87.0L447.5,87.0L448.5,87.2L449.5,87.4L450.0,87.6L451.0,87.9L451.5,88.1L452.3,88.5L453.0,88.9L453.5,89.2L454.0,89.6L454.5,90.2L455.0,90.9L455.3,91.5L455.3,92.5L455.0,93.5L454.6,94.0L454.2,94.5L453.5,95.0L453.0,95.3L452.5,95.6L451.5,96.0L451.0,96.2L450.0,96.4L449.5,96.5ZM410.0,110.1L409.0,110.2L408.0,110.2L407.0,110.1L406.5,110.0L405.5,109.6L405.0,109.2L404.5,108.6L404.4,108.0L404.7,107.5L405.2,107.0L406.0,106.6L406.5,106.4L407.5,106.2L408.5,106.2L409.5,106.2L410.5,106.4L411.0,106.6L411.8,107.0L412.3,107.5L412.6,108.0L412.5,108.6L412.0,109.2L411.5,109.6L410.5,110.0L410.0,110.1Z" stroke="#fee3d6"/><path d="M449.0,71.5L448.0,71.6L447.0,71.7L446.0,71.7L445.0,71.8L444.0,71.8L443.0,71.8L442.0,71.8L441.0,71.8L440.0,71.7L439.0,71.6L438.0,71.6L437.3,71.5L436.5,71.4L435.5,71.3L434.5,71.2L433.5,71.0L433.0,70.9L432.0,70.8L431.0,70.6L430.5,70.5L429.5,70.3L428.5,70.0L428.0,69.9L427.0,69.6L426.5,69.5L425.5,69.2L424.8,69.0L424.0,68.8L423.2,68.5L422.5,68.3L421.7,68.0L421.0,67.7L420.4,67.5L419.5,67.2L419.0,67.0L418.0,66.6L417.5,66.4L416.7,66.0L416.0,65.7L415.5,65.5L414.5,65.0L414.0,64.8L413.3,64.5L412.5,64.1L412.0,63.9L411.2,63.5L410.5,63.2L410.0,62.9L409.1,62.5L408.5,62.2L408.0,61.9L407.1,61.5L406.5,61.2L406.0,60.9L405.1,60.5L404.5,60.2L404.0,59.9L403.2,59.5L402.5,59.2L402.0,58.9L401.2,58.5L400.5,58.1L400.0,57.8L399.4,57.5L398.5,57.0L398.0,56.7L397.5,56.4L396.8,56.0L396.0,55.5L395.5,55.1L395.0,54.7L394.5,54.2L394.0,53.7L393.5,53.0L393.3,52.5L393.0,51.5L393.0,51.0L393.0,50.5L393.1,49.5L393.4,48.5L393.5,48.0L393.9,47.0L394.1,46.5L394.5,45.6L394.8,45.0L395.1,44.5L395.5,43.9L396.0,43.4L396.5,42.9L397.1,42.5L397.9,42.0L398.5,41.7L399.0,41.5L400.0,41.1L400.5,40.9L401.5,40.7L402.1,40.5L403.0,40.3L404.0,40.1L404.8,40.0L405.5,39.9L406.5,39.8L407.5,39.7L408.5,39.6L409.5,39.5L410.1,39.5L411.0,39.5L412.0,39.4L413.0,39.4L414.0,39.4L415.0,39.3L416.0,39.3L417.0,39.3L418.0,39.3L419.0,39.3L420.0,39.3L421.0,39.3L422.0,39.3L423.0,39.3L424.0,39.3L425.0,39.3L426.0,39.3L427.0,39.3L428.0,39.3L429.0,39.3L430.0,39.4L431.0,39.4L432.0,39.4L433.0,39.5L433.6,39.5L434.5,39.5L435.5,39.6L436.5,39.6L437.5,39.6L438.5,39.7L439.5,39.7L440.5,39.7L441.5,39.7L442.5,39.7L443.5,39.6L444.5,39.6L445.4,39.5L446.0,39.4L447.0,39.3L448.0,39.1L448.7,39.0L449.5,38.8L450.5,38.6L451.0,38.5L452.0,38.2L452.9,38.0L453.5,37.8L454.5,37.6L455.0,37.4L456.0,37.2L456.6,37.0L457.5,36.8L458.5,36.6L459.0,36.5L460.0,36.3L461.0,36.2L462.0,36.1L463.0,36.0L464.0,36.0L465.0,36.1L466.0,36.2L467.0,36.3L467.7,36.5L468.5,36.7L469.4,37.0L470.0,37.2L470.6,37.5L471.5,38.0L472.0,38.3L472.5,38.6L473.0,39.0L473.5,39.5L474.1,40.0L474.5,40.5L475.0,41.2L475.5,42.0L475.8,42.5L476.0,43.0L476.4,44.0L476.6,44.5L476.9,45.5L477.0,46.0L477.2,47.0L477.3,48.0L477.3,49.0L477.2,50.0L477.1,51.0L477.0,51.9L476.9,52.5L476.6,53.5L476.4,54.0L476.1,55.0L475.9,55.5L475.5,56.3L475.1,57.0L474.8,57.5L474.5,58.1L474.0,58.8L473.5,59.5L473.2,60.0L472.8,60.5L472.3,61.0L471.9,61.5L471.4,62.0L470.9,62.5L470.3,63.0L469.8,63.5L469.2,64.0L468.5,64.5L468.0,64.9L467.5,65.2L467.0,65.5L466.3,66.0L465.5,66.5L465.0,66.7L464.5,67.0L463.6,67.5L463.0,67.8L462.5,68.0L461.5,68.4L461.0,68.6L460.1,69.0L459.5,69.2L458.7,69.5L458.0,69.7L457.0,70.0L456.5,70.2L455.5,70.4L455.0,70.5L454.0,70.8L453.0,70.9L452.5,71.0L451.5,71.2L450.5,71.3L449.5,71.5L449.0,71.5Z" stroke="#fcc3ab"/><path d="M451.0,67.0L450.0,67.1L449.0,67.2L448.0,67.2L447.0,67.2L446.0,67.2L445.0,67.2L444.0,67.2L443.0,67.1L442.0,67.0L441.5,67.0L440.5,66.9L439.5,66.7L438.5,66.6L437.8,66.5L437.0,66.4L436.0,66.2L435.0,66.0L434.5,65.9L433.5,65.7L432.5,65.5L432.0,65.4L431.0,65.2L430.3,65.0L429.5,64.8L428.5,64.5L428.0,64.4L427.0,64.1L426.5,63.9L425.5,63.6L425.0,63.5L424.0,63.1L423.5,63.0L422.5,62.6L422.0,62.5L421.0,62.1L420.5,61.9L419.5,61.5L419.0,61.3L418.1,61.0L417.5,60.8L416.9,60.5L416.0,60.2L415.5,59.9L414.5,59.5L414.0,59.3L413.3,59.0L412.5,58.7L412.0,58.4L411.0,58.0L410.5,57.7L410.0,57.5L409.0,57.0L408.5,56.7L408.0,56.5L407.1,56.0L406.5,55.6L406.0,55.3L405.5,55.0L404.7,54.5L404.1,54.0L403.5,53.5L403.0,53.1L402.5,52.6L402.0,52.0L401.6,51.5L401.3,51.0L401.0,50.3L400.7,49.5L400.6,48.5L400.6,47.5L400.8,46.5L401.0,46.0L401.5,45.1L402.0,44.5L402.5,44.2L403.0,43.9L403.7,43.5L404.5,43.2L405.0,43.0L406.0,42.7L407.0,42.5L407.5,42.4L408.5,42.3L409.5,42.1L410.5,42.0L411.0,42.0L412.0,41.9L413.0,41.9L414.0,41.8L415.0,41.8L416.0,41.7L417.0,41.7L418.0,41.7L419.0,41.7L420.0,41.7L421.0,41.6L422.0,41.6L423.0,41.6L424.0,41.6L425.0,41.6L426.0,41.6L427.0,41.6L428.0,41.6L429.0,41.6L430.0,41.6L431.0,41.7L432.0,41.7L433.0,41.7L434.0,41.7L435.0,41.8L436.0,41.8L437.0,41.8L438.0,41.9L439.0,41.9L440.0,41.9L441.0,41.9L442.0,41.9L443.0,41.8L444.0,41.8L445.0,41.7L446.0,41.6L446.6,41.5L447.5,41.4L448.5,41.2L449.5,41.0L450.0,40.9L451.0,40.7L451.7,40.5L452.5,40.3L453.5,40.0L454.0,39.9L455.0,39.7L455.6,39.5L456.5,39.3L457.5,39.0L458.0,38.9L459.0,38.8L460.0,38.6L461.0,38.5L461.5,38.5L462.5,38.4L463.5,38.5L464.2,38.5L465.0,38.6L466.0,38.8L466.9,39.0L467.5,39.2L468.3,39.5L469.0,39.8L469.5,40.1L470.1,40.5L470.8,41.0L471.3,41.5L471.8,42.0L472.2,42.5L472.6,43.0L473.0,43.8L473.3,44.5L473.5,45.0L473.9,46.0L474.0,46.6L474.1,47.5L474.2,48.5L474.2,49.5L474.1,50.5L474.0,51.1L473.8,52.0L473.5,53.0L473.3,53.5L473.0,54.2L472.6,55.0L472.3,55.5L472.0,56.1L471.5,56.8L471.0,57.5L470.6,58.0L470.2,58.5L469.7,59.0L469.2,59.5L468.7,60.0L468.1,60.5L467.5,61.0L467.0,61.3L466.5,61.7L466.0,62.0L465.2,62.5L464.5,62.9L464.0,63.2L463.4,63.5L462.5,64.0L462.0,64.2L461.3,64.5L460.5,64.8L460.0,65.0L459.0,65.4L458.5,65.5L457.5,65.8L456.8,66.0L456.0,66.2L455.0,66.4L454.5,66.5L453.5,66.7L452.5,66.9L451.5,67.0L451.0,67.0Z" stroke="#fc9e80"/><path d="M454.0,64.1L453.0,64.2L452.0,64.3L451.0,64.4L450.0,64.4L449.0,64.5L448.0,64.5L447.0,64.4L446.0,64.4L445.0,64.3L444.0,64.2L443.0,64.1L442.3,64.0L441.5,63.9L440.5,63.7L439.5,63.6L439.0,63.5L438.0,63.3L437.0,63.1L436.5,63.0L435.5,62.7L434.5,62.5L434.0,62.4L433.0,62.1L432.5,62.0L431.5,61.7L430.7,61.5L430.0,61.3L429.1,61.0L428.5,60.8L427.5,60.5L427.0,60.3L426.0,60.0L425.5,59.8L424.6,59.5L424.0,59.3L423.2,59.0L422.5,58.7L421.9,58.5L421.0,58.1L420.5,57.9L419.5,57.5L419.0,57.3L418.2,57.0L417.5,56.7L417.0,56.5L416.0,56.0L415.5,55.8L414.9,55.5L414.0,55.1L413.5,54.8L412.9,54.5L412.0,54.0L411.5,53.7L411.0,53.4L410.4,53.0L409.8,52.5L409.2,52.0L408.6,51.5L408.2,51.0L407.8,50.5L407.5,50.0L407.1,49.0L407.0,48.5L407.0,47.5L407.1,47.0L407.5,46.2L408.0,45.8L408.5,45.5L409.5,45.0L410.0,44.9L411.0,44.6L411.5,44.5L412.5,44.3L413.5,44.2L414.5,44.1L415.5,44.0L416.0,44.0L417.0,43.9L418.0,43.9L419.0,43.8L420.0,43.8L421.0,43.7L422.0,43.7L423.0,43.6L424.0,43.6L425.0,43.6L426.0,43.6L427.0,43.5L428.0,43.5L429.0,43.5L430.0,43.5L431.0,43.5L432.0,43.5L433.0,43.5L434.0,43.5L435.0,43.6L436.0,43.6L437.0,43.6L438.0,43.6L439.0,43.6L440.0,43.6L441.0,43.6L442.0,43.6L443.0,43.5L443.5,43.5L444.5,43.4L445.5,43.3L446.5,43.2L447.5,43.0L448.0,42.9L449.0,42.8L450.0,42.6L450.5,42.4L451.5,42.2L452.4,42.0L453.0,41.8L454.0,41.6L454.5,41.5L455.5,41.2L456.5,41.0L457.0,40.9L458.0,40.7L459.0,40.5L459.5,40.4L460.5,40.3L461.5,40.3L462.5,40.3L463.5,40.4L464.5,40.5L465.0,40.6L466.0,40.9L466.5,41.1L467.5,41.5L468.0,41.8L468.5,42.1L469.0,42.5L469.5,43.0L470.0,43.5L470.5,44.2L471.0,45.0L471.2,45.5L471.5,46.4L471.7,47.0L471.8,48.0L471.9,49.0L471.8,50.0L471.7,51.0L471.5,51.7L471.3,52.5L471.0,53.1L470.6,54.0L470.3,54.5L470.0,55.0L469.5,55.7L469.0,56.4L468.5,57.0L468.0,57.5L467.5,58.0L467.0,58.4L466.5,58.8L466.0,59.2L465.5,59.6L464.9,60.0L464.1,60.5L463.5,60.8L463.0,61.1L462.2,61.5L461.5,61.9L461.0,62.1L460.0,62.5L459.5,62.7L458.5,63.0L458.0,63.2L457.0,63.4L456.5,63.6L455.5,63.8L454.5,64.0L454.0,64.1Z" stroke="#fb7b5b"/><path d="M454.0,62.0L453.0,62.2L452.0,62.3L451.0,62.3L450.0,62.3L449.0,62.3L448.0,62.3L447.0,62.2L446.0,62.1L445.1,62.0L444.5,61.9L443.5,61.8L442.5,61.6L442.0,61.5L441.0,61.3L440.0,61.1L439.5,60.9L438.5,60.7L437.7,60.5L437.0,60.3L436.0,60.0L435.5,59.9L434.5,59.6L434.0,59.5L433.0,59.1L432.5,59.0L431.5,58.7L431.0,58.5L430.0,58.1L429.5,58.0L428.5,57.6L428.0,57.4L427.0,57.0L426.5,56.8L425.8,56.5L425.0,56.1L424.5,55.9L423.6,55.5L423.0,55.2L422.5,55.0L421.6,54.5L421.0,54.2L420.5,53.9L419.8,53.5L419.0,53.0L418.5,52.7L418.0,52.3L417.5,52.0L416.9,51.5L416.4,51.0L416.0,50.5L415.5,49.7L415.3,49.0L415.5,48.0L416.0,47.5L416.5,47.2L417.0,47.0L418.0,46.7L418.6,46.5L419.5,46.3L420.5,46.2L421.5,46.0L422.0,46.0L423.0,45.9L424.0,45.8L425.0,45.7L426.0,45.6L427.0,45.5L427.5,45.5L428.5,45.4L429.5,45.4L430.5,45.3L431.5,45.3L432.5,45.3L433.5,45.3L434.5,45.3L435.5,45.3L436.5,45.3L437.5,45.3L438.5,45.2L439.5,45.2L440.5,45.2L441.5,45.2L442.5,45.1L443.5,45.0L444.0,45.0L445.0,44.9L446.0,44.7L447.0,44.6L447.5,44.5L448.5,44.3L449.5,44.1L450.0,44.0L451.0,43.8L452.0,43.5L452.5,43.4L453.5,43.2L454.2,43.0L455.0,42.8L456.0,42.6L456.5,42.5L457.5,42.3L458.5,42.1L459.2,42.0L460.0,41.9L461.0,41.9L462.0,41.9L463.0,42.0L463.5,42.1L464.5,42.3L465.1,42.5L466.0,42.9L466.5,43.2L467.0,43.5L467.6,44.0L468.1,44.5L468.5,45.0L469.0,45.8L469.3,46.5L469.5,47.0L469.7,48.0L469.8,49.0L469.8,50.0L469.6,51.0L469.5,51.5L469.2,52.5L468.9,53.0L468.5,53.8L468.1,54.5L467.7,55.0L467.3,55.5L466.8,56.0L466.4,56.5L465.8,57.0L465.2,57.5L464.5,58.0L464.0,58.4L463.5,58.7L463.0,59.0L462.1,59.5L461.5,59.8L461.0,60.0L460.0,60.5L459.5,60.7L458.5,61.0L458.0,61.2L457.0,61.4L456.5,61.6L455.5,61.8L454.5,62.0L454.0,62.0Z" stroke="#f5533b"/><path d="M455.5,60.0L454.5,60.2L453.5,60.3L452.5,60.4L451.5,60.5L450.5,60.5L449.5,60.4L448.5,60.4L447.5,60.3L446.5,60.1L445.6,60.0L445.0,59.9L444.0,59.7L443.2,59.5L442.5,59.3L441.5,59.1L441.0,58.9L440.0,58.6L439.5,58.5L438.5,58.1L438.0,58.0L437.0,57.6L436.5,57.4L435.5,57.0L435.0,56.8L434.1,56.5L433.5,56.2L433.0,56.0L432.0,55.6L431.5,55.3L430.9,55.0L430.0,54.5L429.5,54.2L429.0,53.9L428.3,53.5L427.6,53.0L427.0,52.5L426.6,52.0L426.2,51.5L425.9,51.0L425.7,50.0L426.0,49.4L426.5,48.9L427.1,48.5L428.0,48.2L428.6,48.0L429.5,47.8L430.5,47.6L431.3,47.5L432.0,47.4L433.0,47.3L434.0,47.2L435.0,47.2L436.0,47.1L437.0,47.0L437.8,47.0L438.5,47.0L439.5,46.9L440.5,46.8L441.5,46.7L442.5,46.6L443.5,46.5L444.0,46.5L445.0,46.3L446.0,46.2L446.9,46.0L447.5,45.9L448.5,45.7L449.3,45.5L450.0,45.3L451.0,45.1L451.5,45.0L452.5,44.7L453.5,44.5L454.0,44.4L455.0,44.2L455.7,44.0L456.5,43.8L457.5,43.7L458.5,43.5L459.0,43.4L460.0,43.4L461.0,43.4L462.0,43.5L462.5,43.5L463.5,43.8L464.2,44.0L465.0,44.4L465.5,44.7L466.0,45.1L466.5,45.6L467.0,46.3L467.4,47.0L467.6,47.5L467.8,48.5L467.9,49.5L467.8,50.5L467.6,51.5L467.4,52.0L467.0,52.8L466.6,53.5L466.3,54.0L465.9,54.5L465.4,55.0L464.9,55.5L464.4,56.0L463.8,56.5L463.0,57.0L462.5,57.4L462.0,57.7L461.4,58.0L460.5,58.4L460.0,58.7L459.2,59.0L458.5,59.2L457.7,59.5L457.0,59.7L456.0,59.9L455.5,60.0Z" stroke="#e12d26"/><path d="M454.5,58.5L453.5,58.6L452.5,58.7L451.5,58.7L450.5,58.7L449.5,58.6L448.6,58.5L448.0,58.4L447.0,58.2L446.1,58.0L445.5,57.8L444.5,57.6L444.0,57.4L443.0,57.0L442.5,56.8L441.6,56.5L441.0,56.2L440.5,56.0L439.6,55.5L439.0,55.2L438.5,54.9L437.9,54.5L437.2,54.0L436.6,53.5L436.2,53.0L435.8,52.5L435.5,51.5L435.5,51.5L435.9,50.5L436.5,50.1L437.0,49.8L437.8,49.5L438.5,49.3L439.5,49.1L440.0,49.0L441.0,48.8L442.0,48.5L442.5,48.4L443.5,48.2L444.5,48.0L445.0,47.9L446.0,47.7L446.8,47.5L447.5,47.3L448.5,47.1L449.0,47.0L450.0,46.7L450.9,46.5L451.5,46.3L452.5,46.1L453.0,46.0L454.0,45.7L455.0,45.5L455.5,45.4L456.5,45.2L457.5,45.0L458.0,45.0L459.0,44.9L460.0,44.9L461.0,44.9L461.5,45.0L462.5,45.3L463.1,45.5L464.0,46.0L464.5,46.4L465.0,47.0L465.4,47.5L465.6,48.0L465.9,49.0L465.9,50.0L465.7,51.0L465.5,51.8L465.1,52.5L464.8,53.0L464.5,53.5L464.0,54.1L463.5,54.6L463.0,55.0L462.3,55.5L461.6,56.0L461.0,56.4L460.5,56.6L459.8,57.0L459.0,57.3L458.5,57.5L457.5,57.9L457.0,58.0L456.0,58.3L455.0,58.5L454.5,58.5Z" stroke="#bf151b"/><path d="M456.0,56.5L455.0,56.7L454.0,56.8L453.0,56.9L452.0,56.9L451.0,56.8L450.0,56.7L449.1,56.5L448.5,56.3L447.5,56.0L447.0,55.8L446.2,55.5L445.5,55.1L445.0,54.8L444.5,54.4L444.0,54.0L443.5,53.3L443.2,52.5L443.5,51.5L443.8,51.0L444.5,50.5L445.0,50.2L445.5,49.9L446.5,49.5L447.0,49.3L447.8,49.0L448.5,48.8L449.3,48.5L450.0,48.3L450.9,48.0L451.5,47.8L452.5,47.5L453.0,47.4L454.0,47.2L454.7,47.0L455.5,46.8L456.5,46.7L457.5,46.6L458.2,46.5L459.0,46.5L459.5,46.5L460.5,46.6L461.5,46.9L462.0,47.2L462.5,47.5L463.0,48.0L463.5,48.9L463.6,49.5L463.7,50.5L463.5,51.2L463.2,52.0L462.8,52.5L462.5,53.0L462.0,53.5L461.4,54.0L460.7,54.5L460.0,55.0L459.5,55.2L459.0,55.5L458.0,55.9L457.5,56.1L456.5,56.4L456.0,56.5Z" stroke="#980c13"/></g>
<g fill="none" stroke-width="1.7" stroke-linejoin="round"><path d="M383.5,94.6L382.5,94.7L381.5,94.8L380.5,94.9L379.5,94.9L378.5,94.9L377.5,94.9L376.5,94.8L375.5,94.7L374.5,94.6L374.0,94.5L373.0,94.3L372.0,94.0L371.5,93.8L370.9,93.5L370.3,93.0L370.4,92.0L371.0,91.7L371.5,91.4L372.5,91.1L373.0,91.0L374.0,90.8L375.0,90.6L376.0,90.5L376.5,90.5L377.5,90.4L378.5,90.4L379.5,90.4L380.5,90.5L381.0,90.5L382.0,90.6L383.0,90.7L384.0,90.9L384.5,91.0L385.5,91.3L386.1,91.5L386.9,92.0L387.3,92.5L387.0,93.3L386.5,93.7L385.8,94.0L385.0,94.3L384.0,94.5L383.5,94.6ZM449.0,149.5L448.0,149.7L447.0,149.8L446.0,149.9L445.0,149.9L444.0,150.0L443.0,150.0L442.0,150.0L441.0,149.9L440.0,149.9L439.0,149.8L438.0,149.7L437.0,149.5L436.5,149.5L435.5,149.3L434.5,149.1L434.0,149.0L433.0,148.8L432.0,148.5L431.5,148.4L430.5,148.2L429.9,148.0L429.0,147.8L428.1,147.5L427.5,147.3L426.5,147.1L426.0,146.9L425.0,146.7L424.0,146.5L423.5,146.4L422.5,146.3L421.5,146.1L420.5,146.1L419.5,146.0L419.0,146.0L418.0,146.0L417.0,146.0L416.3,146.0L415.5,146.0L414.5,146.1L413.5,146.1L412.5,146.2L411.5,146.3L410.5,146.3L409.5,146.4L408.5,146.5L408.0,146.5L407.0,146.6L406.0,146.6L405.0,146.7L404.0,146.7L403.0,146.8L402.0,146.8L401.0,146.8L400.0,146.8L399.0,146.8L398.0,146.8L397.0,146.8L396.0,146.8L395.0,146.7L394.0,146.7L393.0,146.6L392.0,146.5L391.5,146.5L390.5,146.4L389.5,146.3L388.5,146.2L387.5,146.0L387.0,145.9L386.0,145.8L385.0,145.6L384.2,145.5L383.5,145.4L382.5,145.2L381.6,145.0L381.0,144.9L380.0,144.7L379.4,144.5L378.5,144.3L377.5,144.0L377.0,143.9L376.0,143.6L375.5,143.5L374.5,143.2L374.0,143.0L373.0,142.7L372.5,142.5L371.5,142.2L371.0,142.0L370.0,141.6L369.5,141.4L368.6,141.0L368.0,140.8L367.4,140.5L366.5,140.1L366.0,139.8L365.3,139.5L364.5,139.1L364.0,138.8L363.5,138.5L362.6,138.0L362.0,137.6L361.5,137.3L361.0,137.0L360.3,136.5L359.6,136.0L359.0,135.5L358.5,135.1L358.0,134.7L357.5,134.2L357.0,133.8L356.5,133.3L356.0,132.7L355.5,132.1L355.0,131.5L354.6,131.0L354.3,130.5L354.0,130.0L353.5,129.0L353.3,128.5L353.0,127.7L352.8,127.0L352.6,126.0L352.5,125.0L352.6,124.0L352.7,123.0L352.9,122.0L353.0,121.5L353.3,120.5L353.5,120.0L354.0,119.0L354.2,118.5L354.5,118.0L355.0,117.1L355.4,116.5L355.7,116.0L356.1,115.5L356.5,114.9L357.0,114.3L357.5,113.7L358.0,113.1L358.5,112.5L358.9,112.0L359.4,111.5L359.8,111.0L360.3,110.5L360.8,110.0L361.2,109.5L361.7,109.0L362.2,108.5L362.8,108.0L363.3,107.5L363.9,107.0L364.5,106.5L365.0,106.1L365.5,105.7L366.0,105.4L366.6,105.0L367.4,104.5L368.0,104.2L368.5,103.9L369.4,103.5L370.0,103.2L370.6,103.0L371.5,102.6L372.0,102.5L373.0,102.1L373.5,102.0L374.5,101.7L375.3,101.5L376.0,101.3L377.0,101.1L377.5,101.0L378.5,100.8L379.5,100.6L380.4,100.5L381.0,100.4L382.0,100.3L383.0,100.2L384.0,100.1L384.8,100.0L385.5,99.9L386.5,99.9L387.5,99.8L388.5,99.8L389.5,99.7L390.5,99.7L391.5,99.7L392.5,99.7L393.5,99.7L394.5,99.7L395.5,99.8L396.5,99.8L397.5,99.9L398.5,99.9L399.4,100.0L400.0,100.0L401.0,100.1L402.0,100.2L403.0,100.3L404.0,100.5L404.5,100.5L405.5,100.7L406.5,100.8L407.5,101.0L408.0,101.1L409.0,101.2L410.0,101.4L410.5,101.5L411.5,101.7L412.5,101.9L413.0,102.1L414.0,102.3L414.8,102.5L415.5,102.7L416.5,103.0L417.0,103.1L418.0,103.4L418.5,103.6L419.5,103.9L420.0,104.1L421.0,104.4L421.5,104.6L422.5,105.0L423.0,105.2L423.8,105.5L424.5,105.8L425.0,106.0L426.0,106.4L426.5,106.6L427.4,107.0L428.0,107.2L428.7,107.5L429.5,107.8L430.2,108.0L431.0,108.3L432.0,108.5L432.5,108.6L433.5,108.8L434.5,108.9L435.5,108.9L436.5,109.0L437.5,109.0L438.5,109.0L439.5,108.9L440.5,108.9L441.5,108.9L442.5,108.9L443.5,109.0L444.0,109.0L445.0,109.1L446.0,109.2L447.0,109.4L447.5,109.5L448.5,109.8L449.1,110.0L450.0,110.3L450.5,110.5L451.4,111.0L452.0,111.3L452.5,111.7L453.0,112.0L453.6,112.5L454.1,113.0L454.6,113.5L455.0,114.0L455.5,114.7L456.0,115.5L456.2,116.0L456.5,116.9L456.7,117.5L456.8,118.5L456.9,119.5L456.8,120.5L456.6,121.5L456.5,122.0L456.1,123.0L455.8,123.5L455.5,124.1L455.0,124.9L454.6,125.5L454.4,126.0L454.3,127.0L454.5,127.5L455.0,128.1L455.5,128.5L456.1,129.0L456.8,129.5L457.5,130.0L458.0,130.4L458.5,130.7L459.0,131.1L459.5,131.5L460.1,132.0L460.6,132.5L461.1,133.0L461.6,133.5L462.0,134.0L462.5,134.6L463.0,135.5L463.3,136.0L463.5,136.7L463.7,137.5L463.8,138.5L463.7,139.5L463.5,140.3L463.3,141.0L463.0,141.6L462.5,142.5L462.2,143.0L461.8,143.5L461.3,144.0L460.8,144.5L460.2,145.0L459.6,145.5L459.0,145.9L458.5,146.2L458.0,146.5L457.1,147.0L456.5,147.3L456.0,147.5L455.0,148.0L454.5,148.2L453.5,148.5L453.0,148.7L452.0,148.9L451.5,149.0L450.5,149.3L449.5,149.5L449.0,149.5Z" stroke="#e1edf8"/><path d="M447.0,147.6L446.0,147.7L445.0,147.7L444.0,147.8L443.0,147.8L442.0,147.7L441.0,147.7L440.0,147.6L439.3,147.5L438.5,147.4L437.5,147.2L436.5,147.0L436.0,146.9L435.0,146.7L434.3,146.5L433.5,146.3L432.7,146.0L432.0,145.8L431.2,145.5L430.5,145.2L429.9,145.0L429.0,144.6L428.5,144.4L427.6,144.0L427.0,143.8L426.3,143.5L425.5,143.2L425.0,143.0L424.0,142.7L423.1,142.5L422.5,142.4L421.5,142.3L420.5,142.2L419.5,142.2L418.5,142.3L417.5,142.3L416.5,142.4L415.5,142.5L415.0,142.6L414.0,142.7L413.0,142.8L412.0,142.9L411.2,143.0L410.5,143.1L409.5,143.2L408.5,143.3L407.5,143.4L406.6,143.5L406.0,143.6L405.0,143.6L404.0,143.7L403.0,143.8L402.0,143.8L401.0,143.9L400.0,143.9L399.0,143.9L398.0,143.9L397.0,143.9L396.0,143.9L395.0,143.9L394.0,143.8L393.0,143.7L392.0,143.7L391.0,143.6L390.4,143.5L389.5,143.4L388.5,143.3L387.5,143.1L386.6,143.0L386.0,142.9L385.0,142.7L384.0,142.5L383.5,142.4L382.5,142.2L381.5,142.0L381.0,141.9L380.0,141.6L379.5,141.5L378.5,141.2L377.8,141.0L377.0,140.8L376.2,140.5L375.5,140.3L374.8,140.0L374.0,139.7L373.5,139.5L372.5,139.1L372.0,138.9L371.1,138.5L370.5,138.2L370.0,138.0L369.1,137.5L368.5,137.2L368.0,136.9L367.3,136.5L366.5,136.0L366.0,135.7L365.5,135.4L365.0,135.0L364.3,134.5L363.7,134.0L363.1,133.5L362.6,133.0L362.1,132.5L361.7,132.0L361.2,131.5L360.8,131.0L360.5,130.5L360.0,129.7L359.6,129.0L359.4,128.5L359.1,127.5L359.0,127.0L358.8,126.0L358.8,125.0L359.0,124.0L359.1,123.5L359.4,122.5L359.5,122.0L360.0,121.0L360.3,120.5L360.6,120.0L361.0,119.4L361.5,118.8L362.0,118.2L362.5,117.7L363.0,117.2L363.5,116.7L364.0,116.3L364.5,115.9L365.0,115.5L365.8,115.0L366.5,114.5L367.0,114.2L367.5,113.9L368.2,113.5L369.0,113.1L369.5,112.8L370.2,112.5L371.0,112.1L371.5,111.9L372.5,111.5L373.0,111.3L374.0,111.0L374.5,110.8L375.5,110.5L376.0,110.3L377.0,110.1L377.5,109.9L378.5,109.7L379.4,109.5L380.0,109.4L381.0,109.2L382.0,109.0L382.5,108.9L383.5,108.8L384.5,108.7L385.5,108.6L386.2,108.5L387.0,108.4L388.0,108.4L389.0,108.3L390.0,108.3L391.0,108.3L392.0,108.3L393.0,108.4L394.0,108.4L395.0,108.5L395.5,108.5L396.5,108.6L397.5,108.7L398.5,108.9L399.3,109.0L400.0,109.1L401.0,109.3L401.9,109.5L402.5,109.6L403.5,109.9L404.0,110.0L405.0,110.3L405.5,110.5L406.5,110.8L407.0,111.0L408.0,111.4L408.5,111.6L409.4,112.0L410.0,112.3L410.5,112.5L411.4,113.0L412.0,113.3L412.5,113.6L413.1,114.0L413.9,114.5L414.5,114.9L415.0,115.2L415.5,115.6L416.1,116.0L416.7,116.5L417.3,117.0L418.0,117.5L418.5,118.0L419.0,118.4L419.5,118.8L420.0,119.3L420.5,119.7L421.0,120.2L421.5,120.6L422.0,121.1L422.5,121.5L423.0,122.0L423.6,122.5L424.1,123.0L424.7,123.5L425.3,124.0L425.8,124.5L426.5,125.0L427.0,125.4L427.5,125.8L428.0,126.2L428.5,126.6L429.1,127.0L429.9,127.5L430.5,127.8L431.0,128.1L432.0,128.5L432.5,128.6L433.5,128.9L434.2,129.0L435.0,129.1L436.0,129.1L437.0,129.2L438.0,129.2L439.0,129.2L440.0,129.2L441.0,129.2L442.0,129.2L443.0,129.3L444.0,129.3L445.0,129.4L445.8,129.5L446.5,129.6L447.5,129.7L448.5,129.9L449.0,130.0L450.0,130.3L450.8,130.5L451.5,130.7L452.3,131.0L453.0,131.3L453.5,131.5L454.5,132.0L455.0,132.2L455.5,132.5L456.3,133.0L457.0,133.5L457.5,133.9L458.0,134.4L458.5,135.0L458.9,135.5L459.2,136.0L459.5,136.5L459.8,137.5L459.9,138.5L459.8,139.5L459.6,140.5L459.3,141.0L459.0,141.6L458.5,142.3L458.0,142.9L457.5,143.4L457.0,143.8L456.5,144.2L456.0,144.6L455.3,145.0L454.5,145.4L454.0,145.7L453.2,146.0L452.5,146.3L451.9,146.5L451.0,146.8L450.1,147.0L449.5,147.1L448.5,147.3L447.5,147.5L447.0,147.6Z" stroke="#ccdff1"/><path d="M447.5,146.0L446.5,146.1L445.5,146.2L444.5,146.3L443.5,146.3L442.5,146.3L441.5,146.3L440.5,146.2L439.5,146.1L439.0,146.0L438.0,145.8L437.0,145.6L436.5,145.5L435.5,145.2L434.8,145.0L434.0,144.7L433.4,144.5L432.5,144.2L432.0,143.9L431.0,143.5L430.5,143.2L430.0,143.0L429.1,142.5L428.5,142.2L428.0,141.9L427.3,141.5L426.5,141.1L426.0,140.8L425.3,140.5L424.5,140.2L423.9,140.0L423.0,139.8L422.0,139.7L421.0,139.6L420.0,139.7L419.0,139.8L418.0,139.9L417.1,140.0L416.5,140.1L415.5,140.2L414.5,140.4L413.9,140.5L413.0,140.7L412.0,140.8L411.0,141.0L410.5,141.0L409.5,141.2L408.5,141.3L407.5,141.5L407.0,141.5L406.0,141.7L405.0,141.8L404.0,141.9L403.0,142.0L402.3,142.0L401.5,142.1L400.5,142.1L399.5,142.1L398.5,142.2L397.5,142.2L396.5,142.2L395.5,142.1L394.5,142.1L393.5,142.0L392.9,142.0L392.0,141.9L391.0,141.8L390.0,141.7L389.0,141.6L388.2,141.5L387.5,141.4L386.5,141.2L385.5,141.1L385.0,141.0L384.0,140.8L383.0,140.5L382.5,140.4L381.5,140.2L380.8,140.0L380.0,139.8L379.1,139.5L378.5,139.3L377.6,139.0L377.0,138.8L376.2,138.5L375.5,138.2L374.9,138.0L374.0,137.6L373.5,137.4L372.7,137.0L372.0,136.6L371.5,136.4L370.8,136.0L370.0,135.5L369.5,135.2L369.0,134.9L368.4,134.5L367.7,134.0L367.1,133.5L366.5,133.0L366.0,132.5L365.5,132.0L365.0,131.5L364.6,131.0L364.2,130.5L363.9,130.0L363.5,129.3L363.1,128.5L363.0,128.0L362.7,127.0L362.6,126.0L362.7,125.0L362.8,124.0L363.0,123.4L363.4,122.5L363.6,122.0L364.0,121.3L364.5,120.6L365.0,120.0L365.4,119.5L365.9,119.0L366.4,118.5L367.0,118.0L367.5,117.6L368.0,117.3L368.5,116.9L369.2,116.5L370.0,116.0L370.5,115.7L371.0,115.5L372.0,115.0L372.5,114.8L373.1,114.5L374.0,114.2L374.5,114.0L375.5,113.6L376.0,113.5L377.0,113.2L377.7,113.0L378.5,112.8L379.5,112.6L380.0,112.5L381.0,112.3L382.0,112.1L382.8,112.0L383.5,111.9L384.5,111.8L385.5,111.7L386.5,111.6L387.5,111.6L388.5,111.6L389.5,111.6L390.5,111.6L391.5,111.6L392.5,111.6L393.5,111.7L394.5,111.8L395.5,111.9L396.1,112.0L397.0,112.1L398.0,112.3L399.0,112.5L399.5,112.6L400.5,112.8L401.3,113.0L402.0,113.2L403.0,113.5L403.5,113.6L404.5,114.0L405.0,114.1L406.0,114.5L406.5,114.7L407.2,115.0L408.0,115.3L408.5,115.6L409.4,116.0L410.0,116.3L410.5,116.6L411.2,117.0L412.0,117.4L412.5,117.8L413.0,118.1L413.6,118.5L414.4,119.0L415.0,119.5L415.5,119.8L416.0,120.2L416.5,120.6L417.0,121.0L417.6,121.5L418.1,122.0L418.7,122.5L419.3,123.0L419.8,123.5L420.4,124.0L420.9,124.5L421.4,125.0L422.0,125.5L422.5,126.0L423.0,126.5L423.5,126.9L424.0,127.4L424.5,127.9L425.0,128.3L425.5,128.7L426.0,129.2L426.5,129.6L427.1,130.0L428.0,130.5L428.5,130.7L429.5,131.0L430.0,131.1L431.0,131.2L432.0,131.3L433.0,131.3L434.0,131.2L435.0,131.2L436.0,131.1L437.0,131.0L437.7,131.0L438.5,131.0L439.5,130.9L440.5,130.9L441.5,130.9L442.5,130.9L443.5,130.9L444.5,131.0L445.0,131.0L446.0,131.1L447.0,131.3L448.0,131.5L448.5,131.6L449.5,131.8L450.1,132.0L451.0,132.3L451.6,132.5L452.5,132.9L453.0,133.1L453.7,133.5L454.5,134.0L455.0,134.4L455.5,134.8L456.0,135.3L456.5,135.9L456.9,136.5L457.1,137.0L457.4,138.0L457.4,139.0L457.1,140.0L456.9,140.5L456.5,141.3L456.0,141.9L455.5,142.5L455.0,142.9L454.5,143.3L454.0,143.7L453.4,144.0L452.5,144.5L452.0,144.7L451.3,145.0L450.5,145.3L449.8,145.5L449.0,145.7L448.0,145.9L447.5,146.0Z" stroke="#add0e6"/><path d="M444.0,145.0L443.0,145.0L442.4,145.0L441.5,145.0L440.5,144.9L439.5,144.7L438.5,144.5L438.0,144.4L437.0,144.2L436.3,144.0L435.5,143.7L434.8,143.5L434.0,143.2L433.5,142.9L432.6,142.5L432.0,142.2L431.5,141.9L430.9,141.5L430.1,141.0L429.5,140.5L429.0,140.1L428.5,139.7L428.0,139.3L427.5,138.8L427.0,138.3L426.5,137.9L426.0,137.4L425.5,137.0L424.5,136.5L424.0,136.4L423.0,136.4L422.5,136.5L421.5,136.7L420.5,137.0L420.0,137.1L419.0,137.3L418.4,137.5L417.5,137.7L416.5,138.0L416.0,138.1L415.0,138.3L414.3,138.5L413.5,138.7L412.5,138.9L412.0,139.0L411.0,139.2L410.0,139.4L409.5,139.5L408.5,139.7L407.5,139.8L406.5,140.0L406.0,140.1L405.0,140.2L404.0,140.3L403.0,140.4L402.2,140.5L401.5,140.6L400.5,140.6L399.5,140.7L398.5,140.7L397.5,140.7L396.5,140.7L395.5,140.7L394.5,140.7L393.5,140.6L392.5,140.6L391.7,140.5L391.0,140.4L390.0,140.3L389.0,140.2L388.0,140.1L387.5,140.0L386.5,139.8L385.5,139.6L384.8,139.5L384.0,139.3L383.0,139.1L382.5,138.9L381.5,138.7L380.9,138.5L380.0,138.2L379.4,138.0L378.5,137.7L378.0,137.5L377.0,137.1L376.5,136.9L375.6,136.5L375.0,136.2L374.5,136.0L373.6,135.5L373.0,135.2L372.5,134.9L371.9,134.5L371.1,134.0L370.5,133.6L370.0,133.2L369.5,132.8L369.0,132.3L368.5,131.9L368.0,131.3L367.5,130.7L367.0,130.0L366.7,129.5L366.4,129.0L366.0,128.0L365.9,127.5L365.7,126.5L365.7,125.5L365.9,124.5L366.1,124.0L366.5,123.0L366.7,122.5L367.0,122.0L367.5,121.3L368.0,120.7L368.5,120.2L369.0,119.7L369.5,119.3L370.0,118.9L370.5,118.5L371.3,118.0L372.0,117.6L372.5,117.3L373.1,117.0L374.0,116.6L374.5,116.3L375.3,116.0L376.0,115.8L376.7,115.5L377.5,115.3L378.4,115.0L379.0,114.8L380.0,114.6L380.5,114.5L381.5,114.3L382.5,114.1L383.4,114.0L384.0,113.9L385.0,113.8L386.0,113.7L387.0,113.7L388.0,113.6L389.0,113.6L390.0,113.6L391.0,113.7L392.0,113.7L393.0,113.8L394.0,113.9L395.0,114.0L395.5,114.1L396.5,114.2L397.5,114.4L398.1,114.5L399.0,114.7L400.0,114.9L400.5,115.0L401.5,115.3L402.1,115.5L403.0,115.8L403.6,116.0L404.5,116.3L405.0,116.5L406.0,116.9L406.5,117.1L407.3,117.5L408.0,117.8L408.5,118.1L409.2,118.5L410.0,118.9L410.5,119.2L411.0,119.5L411.7,120.0L412.4,120.5L413.0,120.9L413.5,121.3L414.0,121.7L414.5,122.1L415.0,122.5L415.6,123.0L416.2,123.5L416.7,124.0L417.3,124.5L417.8,125.0L418.3,125.5L418.8,126.0L419.3,126.5L419.7,127.0L420.2,127.5L420.6,128.0L421.1,128.5L421.5,129.0L422.0,129.6L422.5,130.3L423.0,130.9L423.4,131.5L423.8,132.0L424.2,132.5L424.6,133.0L425.2,133.5L426.0,133.9L426.5,134.0L427.4,134.0L428.0,133.9L429.0,133.8L430.0,133.6L430.5,133.5L431.5,133.3L432.5,133.1L433.1,133.0L434.0,132.9L435.0,132.7L436.0,132.6L436.5,132.5L437.5,132.4L438.5,132.3L439.5,132.2L440.5,132.2L441.5,132.2L442.5,132.2L443.5,132.2L444.5,132.3L445.5,132.4L446.4,132.5L447.0,132.6L448.0,132.8L448.6,133.0L449.5,133.3L450.1,133.5L451.0,133.9L451.5,134.1L452.2,134.5L452.9,135.0L453.5,135.5L454.0,136.0L454.4,136.5L454.7,137.0L455.0,138.0L455.0,138.5L455.0,139.0L454.7,140.0L454.5,140.5L454.0,141.2L453.5,141.7L453.0,142.2L452.5,142.6L451.8,143.0L451.0,143.4L450.5,143.7L449.6,144.0L449.0,144.2L448.0,144.5L447.5,144.6L446.5,144.8L445.5,144.9L444.5,145.0L444.0,145.0Z" stroke="#84bcdb"/><path d="M402.5,139.0L401.5,139.1L400.5,139.2L399.5,139.3L398.5,139.3L397.5,139.4L396.5,139.4L395.5,139.4L394.5,139.4L393.5,139.3L392.5,139.3L391.5,139.2L390.5,139.1L389.5,139.0L389.0,138.9L388.0,138.8L387.0,138.6L386.3,138.5L385.5,138.3L384.5,138.1L384.0,138.0L383.0,137.7L382.2,137.5L381.5,137.3L380.7,137.0L380.0,136.8L379.3,136.5L378.5,136.2L378.0,135.9L377.1,135.5L376.5,135.2L376.0,135.0L375.1,134.5L374.5,134.1L374.0,133.8L373.5,133.5L372.8,133.0L372.2,132.5L371.6,132.0L371.1,131.5L370.6,131.0L370.2,130.5L369.8,130.0L369.5,129.5L369.0,128.5L368.8,128.0L368.6,127.0L368.6,126.0L368.7,125.0L369.0,124.1L369.3,123.5L369.5,123.0L370.0,122.3L370.5,121.7L371.0,121.1L371.5,120.6L372.0,120.2L372.5,119.8L373.0,119.5L373.7,119.0L374.5,118.6L375.0,118.3L375.6,118.0L376.5,117.6L377.0,117.4L378.0,117.0L378.5,116.9L379.5,116.6L380.0,116.5L381.0,116.2L382.0,116.0L382.5,115.9L383.5,115.7L384.5,115.6L385.5,115.5L386.0,115.5L387.0,115.4L388.0,115.4L389.0,115.3L390.0,115.4L391.0,115.4L392.0,115.4L392.8,115.5L393.5,115.6L394.5,115.7L395.5,115.8L396.5,116.0L397.0,116.1L398.0,116.3L399.0,116.5L399.5,116.6L400.5,116.9L401.0,117.1L402.0,117.4L402.5,117.5L403.5,117.9L404.0,118.1L404.9,118.5L405.5,118.8L406.0,119.0L407.0,119.5L407.5,119.8L408.0,120.0L408.8,120.5L409.5,121.0L410.0,121.3L410.5,121.6L411.0,122.0L411.7,122.5L412.3,123.0L412.9,123.5L413.5,124.0L414.0,124.5L414.5,125.0L415.0,125.5L415.5,126.0L415.9,126.5L416.4,127.0L416.8,127.5L417.2,128.0L417.5,128.5L418.0,129.2L418.5,130.0L418.7,130.5L419.0,131.3L419.2,132.0L419.1,133.0L418.9,133.5L418.5,134.0L418.0,134.5L417.3,135.0L416.5,135.5L416.0,135.7L415.4,136.0L414.5,136.3L414.0,136.5L413.0,136.8L412.5,137.0L411.5,137.3L410.7,137.5L410.0,137.7L409.0,137.9L408.5,138.0L407.5,138.2L406.5,138.4L406.0,138.5L405.0,138.7L404.0,138.8L403.0,139.0L402.5,139.0ZM444.0,143.5L443.0,143.5L442.0,143.5L441.5,143.5L440.5,143.4L439.5,143.3L438.5,143.1L438.0,142.9L437.0,142.7L436.5,142.5L435.5,142.1L435.0,141.9L434.3,141.5L433.5,141.1L433.0,140.7L432.5,140.3L432.0,139.9L431.5,139.4L431.0,138.7L430.6,138.0L430.6,137.0L431.0,136.2L431.5,135.7L432.0,135.4L432.8,135.0L433.5,134.7L434.1,134.5L435.0,134.3L436.0,134.0L436.5,133.9L437.5,133.8L438.5,133.6L439.5,133.5L440.0,133.5L441.0,133.5L442.0,133.5L443.0,133.5L443.5,133.5L444.5,133.6L445.5,133.8L446.5,134.0L447.0,134.1L448.0,134.4L448.5,134.6L449.4,135.0L450.0,135.3L450.5,135.7L451.0,136.1L451.5,136.6L452.0,137.4L452.2,138.0L452.2,139.0L452.0,139.6L451.5,140.5L451.0,141.0L450.5,141.4L450.0,141.8L449.5,142.1L448.6,142.5L448.0,142.7L447.2,143.0L446.5,143.2L445.5,143.4L444.5,143.5L444.0,143.5Z" stroke="#5ba3d0"/><path d="M397.0,138.0L396.0,138.0L395.0,138.1L394.0,138.1L393.0,138.0L392.3,138.0L391.5,138.0L390.5,137.9L389.5,137.8L388.5,137.7L387.5,137.5L387.0,137.4L386.0,137.2L385.1,137.0L384.5,136.9L383.5,136.6L383.0,136.4L382.0,136.1L381.5,135.9L380.6,135.5L380.0,135.3L379.5,135.0L378.5,134.5L378.0,134.3L377.5,134.0L376.7,133.5L376.0,133.0L375.5,132.7L375.0,132.3L374.5,131.9L374.0,131.5L373.5,131.0L373.0,130.5L372.5,129.9L372.0,129.1L371.7,128.5L371.5,128.0L371.3,127.0L371.3,126.0L371.5,125.0L371.7,124.5L372.0,123.8L372.5,123.0L372.9,122.5L373.3,122.0L373.8,121.5L374.4,121.0L375.0,120.6L375.5,120.2L376.0,119.9L376.8,119.5L377.5,119.2L378.0,118.9L379.0,118.5L379.5,118.4L380.5,118.1L381.0,117.9L382.0,117.7L383.0,117.5L383.5,117.4L384.5,117.3L385.5,117.2L386.5,117.1L387.5,117.0L388.0,117.0L389.0,117.0L390.0,117.0L390.5,117.0L391.5,117.1L392.5,117.1L393.5,117.2L394.5,117.4L395.5,117.5L396.0,117.6L397.0,117.8L398.0,118.0L398.5,118.1L399.5,118.4L400.0,118.6L401.0,118.9L401.5,119.0L402.5,119.4L403.0,119.6L403.8,120.0L404.5,120.3L405.0,120.6L405.8,121.0L406.5,121.4L407.0,121.7L407.5,122.0L408.2,122.5L408.9,123.0L409.5,123.4L410.0,123.9L410.5,124.3L411.0,124.7L411.5,125.2L412.0,125.7L412.5,126.3L413.0,126.9L413.5,127.5L413.8,128.0L414.1,128.5L414.5,129.2L414.8,130.0L415.0,130.6L415.1,131.5L415.0,132.0L414.5,133.0L414.1,133.5L413.5,134.0L413.0,134.3L412.5,134.6L411.8,135.0L411.0,135.3L410.5,135.5L409.5,135.9L409.0,136.1L408.0,136.4L407.5,136.5L406.5,136.8L405.5,137.0L405.0,137.1L404.0,137.3L403.0,137.4L402.5,137.5L401.5,137.7L400.5,137.8L399.5,137.9L398.5,137.9L397.5,138.0L397.0,138.0ZM443.5,141.0L442.5,141.2L441.5,141.3L440.5,141.2L439.5,141.1L438.8,141.0L438.0,140.8L437.2,140.5L436.5,140.2L436.0,139.9L435.5,139.5L435.0,139.0L434.5,138.1L434.5,137.6L434.8,137.0L435.3,136.5L436.0,136.1L436.5,135.9L437.5,135.6L438.0,135.5L439.0,135.4L440.0,135.3L441.0,135.3L442.0,135.3L443.0,135.4L443.5,135.5L444.5,135.8L445.1,136.0L446.0,136.5L446.5,137.0L446.8,137.5L446.9,138.5L446.5,139.3L446.0,139.8L445.5,140.2L445.0,140.5L444.0,140.9L443.5,141.0Z" stroke="#3989c1"/><path d="M397.0,136.5L396.0,136.6L395.0,136.7L394.0,136.7L393.0,136.7L392.0,136.7L391.0,136.7L390.0,136.6L389.0,136.5L388.5,136.4L387.5,136.3L386.5,136.1L386.0,136.0L385.0,135.7L384.3,135.5L383.5,135.2L382.9,135.0L382.0,134.6L381.5,134.3L380.8,134.0L380.0,133.5L379.5,133.2L379.0,132.9L378.5,132.5L377.8,132.0L377.1,131.5L376.5,131.0L376.0,130.5L375.5,130.0L375.1,129.5L374.7,129.0L374.4,128.5L374.0,127.5L373.9,127.0L373.9,126.0L374.0,125.5L374.3,124.5L374.6,124.0L375.0,123.4L375.5,122.8L376.0,122.3L376.5,121.9L377.0,121.5L377.8,121.0L378.5,120.6L379.0,120.4L379.9,120.0L380.5,119.8L381.5,119.5L382.0,119.4L383.0,119.2L384.0,119.0L384.5,118.9L385.5,118.8L386.5,118.8L387.5,118.7L388.5,118.7L389.5,118.7L390.5,118.8L391.5,118.8L392.5,118.9L393.4,119.0L394.0,119.1L395.0,119.2L396.0,119.4L396.5,119.5L397.5,119.8L398.4,120.0L399.0,120.2L399.9,120.5L400.5,120.7L401.2,121.0L402.0,121.3L402.5,121.6L403.4,122.0L404.0,122.4L404.5,122.7L405.1,123.0L405.8,123.5L406.5,124.0L407.0,124.4L407.5,124.9L408.0,125.3L408.5,125.8L409.0,126.4L409.5,127.0L409.9,127.5L410.2,128.0L410.5,128.6L410.8,129.5L411.0,130.5L410.8,131.5L410.5,132.1L410.0,132.7L409.5,133.1L408.9,133.5L408.0,134.0L407.5,134.2L406.9,134.5L406.0,134.8L405.4,135.0L404.5,135.3L403.6,135.5L403.0,135.6L402.0,135.8L401.2,136.0L400.5,136.1L399.5,136.2L398.5,136.4L397.5,136.5L397.0,136.5Z" stroke="#1c6bb0"/><path d="M395.0,135.0L394.0,135.1L393.0,135.2L392.0,135.3L391.0,135.3L390.0,135.3L389.0,135.2L388.0,135.1L387.5,135.0L386.5,134.8L385.6,134.5L385.0,134.3L384.3,134.0L383.5,133.6L383.0,133.3L382.5,133.0L381.8,132.5L381.2,132.0L380.6,131.5L380.1,131.0L379.5,130.5L379.0,130.0L378.5,129.6L378.0,129.1L377.5,128.5L377.1,128.0L376.9,127.5L376.6,126.5L376.6,125.5L377.0,124.5L377.3,124.0L377.7,123.5L378.2,123.0L378.9,122.5L379.5,122.1L380.0,121.9L380.9,121.5L381.5,121.3L382.5,121.1L383.0,121.0L384.0,120.8L385.0,120.8L386.0,120.7L387.0,120.8L388.0,120.8L389.0,120.9L390.0,120.9L390.9,121.0L391.5,121.1L392.5,121.2L393.5,121.3L394.5,121.5L395.0,121.6L396.0,121.8L396.7,122.0L397.5,122.3L398.2,122.5L399.0,122.8L399.5,123.0L400.5,123.5L401.0,123.8L401.5,124.1L402.1,124.5L402.8,125.0L403.4,125.5L403.9,126.0L404.4,126.5L404.8,127.0L405.1,127.5L405.5,128.2L405.8,129.0L405.8,130.0L405.5,130.9L405.0,131.5L404.5,132.0L404.0,132.3L403.5,132.6L402.6,133.0L402.0,133.2L401.3,133.5L400.5,133.8L399.7,134.0L399.0,134.2L398.0,134.4L397.5,134.5L396.5,134.7L395.5,134.9L395.0,135.0Z" stroke="#084f99"/><path d="M391.5,133.6L390.5,133.7L389.5,133.7L388.5,133.6L388.0,133.5L387.0,133.2L386.5,133.0L385.6,132.5L385.0,132.1L384.5,131.6L384.1,131.0L383.9,130.5L383.5,129.5L383.3,129.0L383.0,128.4L382.5,127.9L382.0,127.5L381.3,127.0L380.7,126.5L380.4,126.0L380.5,125.0L380.8,124.5L381.5,124.0L382.0,123.8L383.0,123.7L384.0,123.7L385.0,124.0L385.5,124.3L386.0,124.7L386.5,125.1L387.0,125.5L387.8,126.0L388.5,126.2L389.5,126.5L390.0,126.6L391.0,126.8L391.7,127.0L392.5,127.2L393.1,127.5L394.0,127.9L394.5,128.2L395.0,128.6L395.5,129.2L395.9,130.0L395.9,131.0L395.5,131.6L395.0,132.2L394.5,132.5L393.6,133.0L393.0,133.2L392.0,133.5L391.5,133.6Z" stroke="#08326e"/></g>
<g fill="none" stroke-width="1.7" stroke-linejoin="round"><path d="M397.0,148.6L396.0,148.7L395.0,148.8L394.0,148.9L393.0,148.9L392.0,148.9L391.0,148.9L390.0,148.9L389.0,148.9L388.0,148.8L387.0,148.8L386.0,148.7L385.0,148.5L384.5,148.5L383.5,148.3L382.5,148.2L381.6,148.0L381.0,147.9L380.0,147.7L379.3,147.5L378.5,147.3L377.5,147.0L377.0,146.9L376.0,146.6L375.5,146.4L374.5,146.1L374.0,145.9L373.0,145.5L372.5,145.3L371.8,145.0L371.0,144.6L370.5,144.4L369.8,144.0L369.0,143.6L368.5,143.3L368.0,143.0L367.1,142.5L366.5,142.1L366.0,141.7L365.5,141.4L365.0,141.0L364.4,140.5L363.8,140.0L363.3,139.5L362.8,139.0L362.3,138.5L361.9,138.0L361.5,137.5L361.0,136.8L360.5,136.0L360.2,135.5L359.9,135.0L359.5,134.0L359.4,133.5L359.1,132.5L359.0,131.9L358.9,131.0L358.9,130.0L359.0,129.3L359.1,128.5L359.3,127.5L359.5,126.7L359.7,126.0L360.0,125.2L360.3,124.5L360.5,124.0L361.0,123.0L361.2,122.5L361.5,122.0L362.0,121.2L362.5,120.5L362.9,120.0L363.3,119.5L363.7,119.0L364.1,118.5L364.6,118.0L365.1,117.5L365.6,117.0L366.2,116.5L366.8,116.0L367.4,115.5L368.0,115.1L368.5,114.7L369.0,114.4L369.6,114.0L370.5,113.5L371.0,113.2L371.5,112.9L372.4,112.5L373.0,112.2L373.5,112.0L374.5,111.6L375.0,111.4L376.0,111.0L376.5,110.8L377.5,110.5L378.0,110.4L379.0,110.1L379.6,110.0L380.5,109.8L381.5,109.6L382.4,109.5L383.0,109.4L384.0,109.3L385.0,109.2L386.0,109.2L387.0,109.2L388.0,109.2L389.0,109.2L390.0,109.3L391.0,109.4L391.7,109.5L392.5,109.6L393.5,109.8L394.4,110.0L395.0,110.1L396.0,110.4L396.5,110.6L397.5,110.9L398.0,111.0L399.0,111.4L399.5,111.6L400.4,112.0L401.0,112.3L401.5,112.5L402.5,113.0L403.0,113.3L403.5,113.6L404.2,114.0L405.0,114.5L405.5,114.8L406.0,115.2L406.5,115.5L407.1,116.0L407.7,116.5L408.3,117.0L408.9,117.5L409.4,118.0L409.9,118.5L410.4,119.0L410.9,119.5L411.3,120.0L411.7,120.5L412.1,121.0L412.5,121.6L413.0,122.3L413.5,123.0L413.8,123.5L414.0,124.0L414.5,124.9L414.8,125.5L415.0,126.0L415.4,127.0L415.5,127.5L415.9,128.5L416.0,129.1L416.2,130.0L416.3,131.0L416.4,132.0L416.5,133.0L416.4,134.0L416.3,135.0L416.2,136.0L416.0,136.6L415.7,137.5L415.5,138.0L415.0,138.9L414.6,139.5L414.3,140.0L413.9,140.5L413.5,141.0L413.0,141.5L412.5,142.0L412.0,142.5L411.4,143.0L410.7,143.5L410.0,144.0L409.5,144.3L409.0,144.6L408.4,145.0L407.5,145.5L407.0,145.7L406.3,146.0L405.5,146.4L405.0,146.6L404.0,146.9L403.5,147.1L402.5,147.4L402.0,147.5L401.0,147.8L400.1,148.0L399.5,148.1L398.5,148.3L397.5,148.5L397.0,148.6Z" stroke="#ebf7e7"/><path d="M393.5,146.5L392.5,146.6L391.5,146.6L390.5,146.6L389.5,146.6L388.5,146.6L387.5,146.5L387.0,146.5L386.0,146.4L385.0,146.2L384.0,146.1L383.5,146.0L382.5,145.8L381.5,145.6L381.0,145.5L380.0,145.3L379.1,145.0L378.5,144.8L377.5,144.5L377.0,144.4L376.0,144.0L375.5,143.8L374.7,143.5L374.0,143.2L373.5,143.0L372.5,142.5L372.0,142.2L371.5,142.0L370.7,141.5L370.0,141.1L369.5,140.7L369.0,140.4L368.5,140.0L367.8,139.5L367.2,139.0L366.7,138.5L366.2,138.0L365.7,137.5L365.3,137.0L364.9,136.5L364.5,135.9L364.0,135.0L363.7,134.5L363.5,133.9L363.2,133.0L363.0,132.1L362.9,131.5L362.9,130.5L363.0,129.6L363.1,129.0L363.3,128.0L363.5,127.3L363.7,126.5L364.0,125.8L364.4,125.0L364.6,124.5L365.0,123.8L365.4,123.0L365.8,122.5L366.1,122.0L366.5,121.5L367.0,120.9L367.5,120.3L368.0,119.8L368.5,119.3L369.0,118.8L369.5,118.4L370.0,118.0L370.6,117.5L371.3,117.0L372.0,116.5L372.5,116.2L373.0,115.9L373.8,115.5L374.5,115.1L375.0,114.9L375.9,114.5L376.5,114.2L377.1,114.0L378.0,113.7L378.6,113.5L379.5,113.2L380.5,113.0L381.0,112.9L382.0,112.7L383.0,112.5L383.5,112.5L384.5,112.4L385.5,112.3L386.5,112.3L387.5,112.3L388.5,112.3L389.5,112.4L390.5,112.5L391.0,112.5L392.0,112.7L393.0,112.9L393.5,113.0L394.5,113.2L395.4,113.5L396.0,113.7L396.8,114.0L397.5,114.2L398.1,114.5L399.0,114.9L399.5,115.1L400.2,115.5L401.0,115.9L401.5,116.2L402.0,116.5L402.8,117.0L403.5,117.5L404.0,117.8L404.5,118.2L405.0,118.6L405.5,119.0L406.0,119.5L406.5,120.0L407.0,120.5L407.5,121.0L408.0,121.5L408.5,122.1L409.0,122.8L409.5,123.5L409.9,124.0L410.2,124.5L410.5,125.1L411.0,126.0L411.2,126.5L411.5,127.1L411.8,128.0L412.0,128.5L412.3,129.5L412.5,130.5L412.6,131.0L412.7,132.0L412.7,133.0L412.7,134.0L412.5,135.0L412.4,135.5L412.1,136.5L411.9,137.0L411.5,137.8L411.1,138.5L410.7,139.0L410.3,139.5L409.9,140.0L409.4,140.5L408.9,141.0L408.3,141.5L407.6,142.0L407.0,142.4L406.5,142.7L406.0,143.0L405.1,143.5L404.5,143.8L404.0,144.0L403.0,144.5L402.5,144.7L401.5,145.0L401.0,145.2L400.0,145.5L399.5,145.6L398.5,145.8L397.6,146.0L397.0,146.1L396.0,146.3L395.0,146.4L394.0,146.5L393.5,146.5Z" stroke="#dbf1d6"/><path d="M393.5,145.0L392.5,145.1L391.5,145.1L390.5,145.1L389.5,145.1L388.5,145.1L387.5,145.0L387.0,145.0L386.0,144.9L385.0,144.7L384.0,144.6L383.5,144.5L382.5,144.3L381.5,144.1L381.0,143.9L380.0,143.7L379.4,143.5L378.5,143.2L377.8,143.0L377.0,142.7L376.5,142.5L375.5,142.1L375.0,141.9L374.2,141.5L373.5,141.1L373.0,140.9L372.4,140.5L371.6,140.0L371.0,139.6L370.5,139.3L370.0,138.9L369.5,138.5L369.0,138.0L368.5,137.5L368.0,137.0L367.5,136.4L367.0,135.7L366.6,135.0L366.3,134.5L366.0,133.8L365.7,133.0L365.5,132.0L365.5,131.5L365.5,130.5L365.5,130.0L365.7,129.0L365.9,128.0L366.1,127.5L366.5,126.5L366.7,126.0L367.0,125.3L367.4,124.5L367.7,124.0L368.1,123.5L368.5,122.9L369.0,122.2L369.5,121.6L370.0,121.1L370.5,120.6L371.0,120.1L371.5,119.7L372.0,119.3L372.5,118.9L373.0,118.5L373.8,118.0L374.5,117.6L375.0,117.3L375.5,117.0L376.5,116.5L377.0,116.3L377.7,116.0L378.5,115.7L379.1,115.5L380.0,115.2L380.8,115.0L381.5,114.8L382.5,114.6L383.3,114.5L384.0,114.4L385.0,114.3L386.0,114.2L387.0,114.2L388.0,114.2L389.0,114.3L390.0,114.4L390.7,114.5L391.5,114.6L392.5,114.8L393.2,115.0L394.0,115.2L394.9,115.5L395.5,115.7L396.3,116.0L397.0,116.3L397.5,116.5L398.5,117.0L399.0,117.2L399.5,117.5L400.4,118.0L401.0,118.4L401.5,118.7L402.0,119.1L402.6,119.5L403.2,120.0L403.8,120.5L404.4,121.0L404.9,121.5L405.4,122.0L405.8,122.5L406.3,123.0L406.7,123.5L407.1,124.0L407.5,124.6L408.0,125.4L408.4,126.0L408.7,126.5L409.0,127.2L409.3,128.0L409.5,128.5L409.9,129.5L410.0,130.1L410.2,131.0L410.3,132.0L410.3,133.0L410.2,134.0L410.1,135.0L409.9,135.5L409.6,136.5L409.3,137.0L409.0,137.6L408.5,138.3L408.0,138.9L407.5,139.4L407.0,139.9L406.5,140.3L406.0,140.7L405.5,141.1L404.9,141.5L404.1,142.0L403.5,142.3L403.0,142.5L402.0,143.0L401.5,143.2L400.7,143.5L400.0,143.7L399.1,144.0L398.5,144.2L397.5,144.4L397.0,144.5L396.0,144.7L395.0,144.8L394.0,145.0L393.5,145.0Z" stroke="#c7e9c0"/><path d="M395.0,143.6L394.0,143.7L393.0,143.8L392.0,143.9L391.0,143.9L390.0,143.9L389.0,143.9L388.0,143.8L387.0,143.8L386.0,143.6L385.0,143.5L384.5,143.4L383.5,143.2L382.5,143.0L382.0,142.9L381.0,142.7L380.4,142.5L379.5,142.2L378.8,142.0L378.0,141.7L377.4,141.5L376.5,141.1L376.0,140.9L375.2,140.5L374.5,140.1L374.0,139.9L373.4,139.5L372.6,139.0L372.0,138.5L371.5,138.1L371.0,137.7L370.5,137.3L370.0,136.8L369.5,136.2L369.0,135.5L368.6,135.0L368.4,134.5L368.0,133.7L367.8,133.0L367.6,132.0L367.5,131.0L367.5,131.0L367.6,130.0L367.8,129.0L368.0,128.2L368.2,127.5L368.5,126.9L368.9,126.0L369.2,125.5L369.5,125.0L370.0,124.2L370.5,123.5L370.9,123.0L371.3,122.5L371.8,122.0L372.3,121.5L372.8,121.0L373.4,120.5L374.0,120.1L374.5,119.7L375.0,119.4L375.6,119.0L376.4,118.5L377.0,118.2L377.5,118.0L378.5,117.5L379.0,117.3L379.9,117.0L380.5,116.8L381.5,116.5L382.0,116.4L383.0,116.2L384.0,116.1L384.5,116.0L385.5,115.9L386.5,115.9L387.5,115.9L388.5,115.9L389.5,116.0L390.0,116.1L391.0,116.2L392.0,116.4L392.5,116.5L393.5,116.8L394.1,117.0L395.0,117.3L395.5,117.5L396.5,117.9L397.0,118.2L397.7,118.5L398.5,118.9L399.0,119.2L399.5,119.5L400.2,120.0L400.9,120.5L401.5,120.9L402.0,121.3L402.5,121.8L403.0,122.2L403.5,122.7L404.0,123.2L404.5,123.8L405.0,124.3L405.5,125.0L405.9,125.5L406.2,126.0L406.5,126.5L407.0,127.4L407.3,128.0L407.5,128.5L407.9,129.5L408.0,130.0L408.2,131.0L408.4,132.0L408.4,133.0L408.3,134.0L408.1,135.0L407.9,135.5L407.5,136.5L407.2,137.0L406.9,137.5L406.5,138.0L406.0,138.5L405.5,139.0L405.0,139.5L404.3,140.0L403.6,140.5L403.0,140.9L402.5,141.1L401.8,141.5L401.0,141.9L400.5,142.1L399.5,142.5L399.0,142.6L398.0,142.9L397.5,143.0L396.5,143.3L395.5,143.5L395.0,143.6Z" stroke="#aedea7"/><path d="M394.0,142.5L393.0,142.7L392.0,142.7L391.0,142.8L390.0,142.8L389.0,142.8L388.0,142.7L387.0,142.7L386.0,142.5L385.5,142.5L384.5,142.3L383.5,142.1L382.9,142.0L382.0,141.8L381.0,141.5L380.5,141.4L379.5,141.1L379.0,140.9L378.0,140.5L377.5,140.3L376.9,140.0L376.0,139.6L375.5,139.3L375.0,139.0L374.2,138.5L373.5,138.0L373.0,137.6L372.5,137.2L372.0,136.8L371.5,136.3L371.0,135.7L370.5,135.0L370.2,134.5L369.9,134.0L369.6,133.0L369.4,132.5L369.3,131.5L369.4,130.5L369.5,129.6L369.7,129.0L370.0,128.0L370.2,127.5L370.5,126.8L370.9,126.0L371.3,125.5L371.6,125.0L372.0,124.4L372.5,123.8L373.0,123.2L373.5,122.7L374.0,122.2L374.5,121.8L375.0,121.4L375.5,121.0L376.2,120.5L377.0,120.0L377.5,119.7L378.0,119.5L379.0,119.0L379.5,118.8L380.2,118.5L381.0,118.2L381.9,118.0L382.5,117.8L383.5,117.6L384.5,117.5L385.0,117.4L386.0,117.4L387.0,117.4L388.0,117.4L389.0,117.5L389.5,117.5L390.5,117.7L391.5,117.9L392.0,118.0L393.0,118.3L393.7,118.5L394.5,118.8L395.0,119.0L396.0,119.4L396.5,119.7L397.1,120.0L398.0,120.5L398.5,120.8L399.0,121.1L399.5,121.5L400.2,122.0L400.8,122.5L401.4,123.0L402.0,123.5L402.5,124.0L403.0,124.5L403.4,125.0L403.8,125.5L404.2,126.0L404.6,126.5L405.0,127.2L405.5,128.0L405.7,128.5L406.0,129.1L406.3,130.0L406.5,130.8L406.6,131.5L406.7,132.5L406.6,133.5L406.5,134.4L406.3,135.0L406.0,135.8L405.6,136.5L405.3,137.0L404.9,137.5L404.4,138.0L403.9,138.5L403.3,139.0L402.6,139.5L402.0,139.9L401.5,140.2L400.9,140.5L400.0,140.9L399.5,141.1L398.5,141.5L398.0,141.7L397.0,141.9L396.5,142.1L395.5,142.3L394.5,142.5L394.0,142.5Z" stroke="#92d28f"/><path d="M393.5,141.5L392.5,141.6L391.5,141.7L390.5,141.8L389.5,141.8L388.5,141.7L387.5,141.7L386.5,141.6L385.9,141.5L385.0,141.4L384.0,141.2L383.1,141.0L382.5,140.9L381.5,140.6L381.0,140.4L380.0,140.1L379.5,139.9L378.5,139.5L378.0,139.3L377.3,139.0L376.5,138.6L376.0,138.3L375.5,138.0L374.8,137.5L374.2,137.0L373.6,136.5L373.1,136.0L372.6,135.5L372.3,135.0L371.9,134.5L371.5,133.7L371.2,133.0L371.0,132.0L371.0,131.5L371.0,131.0L371.1,130.0L371.4,129.0L371.6,128.5L372.0,127.6L372.3,127.0L372.6,126.5L373.0,125.9L373.5,125.2L374.0,124.6L374.5,124.0L375.0,123.5L375.5,123.1L376.0,122.6L376.5,122.3L377.0,121.9L377.6,121.5L378.4,121.0L379.0,120.7L379.5,120.4L380.5,120.0L381.0,119.8L382.0,119.5L382.5,119.4L383.5,119.1L384.4,119.0L385.0,118.9L386.0,118.8L387.0,118.8L388.0,118.9L389.0,119.0L389.5,119.0L390.5,119.2L391.5,119.4L392.0,119.6L393.0,119.9L393.5,120.0L394.5,120.4L395.0,120.7L395.7,121.0L396.5,121.4L397.0,121.7L397.5,122.0L398.2,122.5L398.9,123.0L399.5,123.4L400.0,123.8L400.5,124.2L401.0,124.7L401.5,125.2L402.0,125.7L402.5,126.3L403.0,126.9L403.4,127.5L403.7,128.0L404.0,128.5L404.5,129.5L404.7,130.0L404.9,131.0L405.0,131.5L405.1,132.5L405.0,133.5L405.0,134.0L404.6,135.0L404.4,135.5L404.0,136.2L403.5,136.9L403.0,137.4L402.5,137.9L402.0,138.3L401.5,138.6L401.0,139.0L400.1,139.5L399.5,139.8L399.0,140.0L398.0,140.4L397.5,140.6L396.5,140.9L396.0,141.0L395.0,141.3L394.0,141.4L393.5,141.5Z" stroke="#73c476"/><path d="M393.0,140.5L392.0,140.6L391.0,140.7L390.0,140.7L389.0,140.7L388.0,140.7L387.0,140.6L386.0,140.5L385.5,140.4L384.5,140.3L383.5,140.1L383.0,139.9L382.0,139.7L381.4,139.5L380.5,139.2L380.0,139.0L379.0,138.6L378.5,138.4L377.8,138.0L377.0,137.6L376.5,137.2L376.0,136.9L375.5,136.5L374.9,136.0L374.4,135.5L374.0,135.0L373.5,134.3L373.1,133.5L372.9,133.0L372.7,132.0L372.6,131.0L372.8,130.0L373.0,129.4L373.4,128.5L373.6,128.0L374.0,127.3L374.5,126.6L374.9,126.0L375.3,125.5L375.8,125.0L376.3,124.5L376.9,124.0L377.5,123.5L378.0,123.1L378.5,122.8L379.0,122.5L379.9,122.0L380.5,121.7L381.0,121.5L382.0,121.1L382.5,121.0L383.5,120.7L384.5,120.5L385.0,120.5L386.0,120.4L387.0,120.4L388.0,120.4L389.0,120.5L389.5,120.6L390.5,120.8L391.4,121.0L392.0,121.2L392.9,121.5L393.5,121.7L394.2,122.0L395.0,122.4L395.5,122.7L396.1,123.0L397.0,123.5L397.5,123.8L398.0,124.2L398.5,124.6L399.1,125.0L399.7,125.5L400.2,126.0L400.7,126.5L401.2,127.0L401.6,127.5L402.0,128.0L402.5,128.8L402.8,129.5L403.1,130.0L403.4,131.0L403.5,131.8L403.5,132.5L403.5,133.2L403.4,134.0L403.0,135.0L402.7,135.5L402.4,136.0L402.0,136.5L401.5,137.0L400.9,137.5L400.2,138.0L399.5,138.4L399.0,138.7L398.4,139.0L397.5,139.4L397.0,139.6L396.0,139.9L395.5,140.0L394.5,140.3L393.5,140.4L393.0,140.5Z" stroke="#52b365"/><path d="M392.5,139.5L391.5,139.6L390.5,139.7L389.5,139.7L388.5,139.7L387.5,139.7L386.5,139.6L386.0,139.5L385.0,139.3L384.0,139.2L383.3,139.0L382.5,138.8L381.6,138.5L381.0,138.3L380.3,138.0L379.5,137.7L379.0,137.4L378.2,137.0L377.5,136.5L377.0,136.2L376.5,135.8L376.0,135.3L375.5,134.7L375.0,134.0L374.7,133.5L374.5,133.0L374.3,132.0L374.3,131.0L374.5,130.1L374.7,129.5L375.0,128.8L375.5,128.0L375.8,127.5L376.2,127.0L376.6,126.5L377.1,126.0L377.6,125.5L378.2,125.0L378.9,124.5L379.5,124.1L380.0,123.8L380.6,123.5L381.5,123.1L382.0,122.9L383.0,122.5L383.5,122.4L384.5,122.2L385.5,122.1L386.5,122.0L387.5,122.0L388.5,122.1L389.5,122.2L390.5,122.5L391.0,122.6L392.0,122.9L392.5,123.1L393.5,123.5L394.0,123.7L394.7,124.0L395.5,124.4L396.0,124.7L396.5,125.0L397.3,125.5L398.0,126.0L398.5,126.4L399.0,126.9L399.5,127.3L400.0,127.9L400.5,128.5L400.9,129.0L401.2,129.5L401.5,130.2L401.8,131.0L402.0,132.0L401.9,133.0L401.7,134.0L401.5,134.6L401.0,135.4L400.5,136.0L400.0,136.5L399.5,136.9L399.0,137.3L398.5,137.6L397.7,138.0L397.0,138.3L396.5,138.5L395.5,138.9L395.0,139.0L394.0,139.3L393.0,139.4L392.5,139.5Z" stroke="#37a055"/><path d="M392.0,138.5L391.0,138.6L390.0,138.7L389.0,138.7L388.0,138.7L387.0,138.6L386.2,138.5L385.5,138.4L384.5,138.2L383.6,138.0L383.0,137.8L382.0,137.5L381.5,137.3L380.7,137.0L380.0,136.7L379.5,136.4L378.8,136.0L378.2,135.5L377.6,135.0L377.1,134.5L376.7,134.0L376.4,133.5L376.0,132.5L376.0,132.0L376.0,131.1L376.1,130.5L376.5,129.5L376.8,129.0L377.1,128.5L377.5,128.0L378.0,127.4L378.5,126.9L379.0,126.5L379.7,126.0L380.5,125.5L381.0,125.2L381.5,125.0L382.5,124.5L383.0,124.4L384.0,124.1L384.5,124.0L385.5,123.8L386.5,123.8L387.5,123.8L388.5,123.9L389.5,124.0L390.0,124.1L391.0,124.3L391.6,124.5L392.5,124.8L393.0,125.0L394.0,125.4L394.5,125.6L395.2,126.0L396.0,126.5L396.5,126.8L397.0,127.1L397.5,127.5L398.1,128.0L398.6,128.5L399.0,129.0L399.5,129.7L399.9,130.5L400.1,131.0L400.3,132.0L400.3,133.0L400.0,134.0L399.8,134.5L399.5,135.0L399.0,135.5L398.5,136.0L397.8,136.5L397.0,137.0L396.5,137.2L395.9,137.5L395.0,137.8L394.4,138.0L393.5,138.2L392.5,138.4L392.0,138.5Z" stroke="#228a44"/><path d="M390.5,137.5L389.5,137.6L388.5,137.6L387.5,137.6L386.8,137.5L386.0,137.4L385.0,137.2L384.0,137.0L383.5,136.9L382.5,136.5L382.0,136.3L381.3,136.0L380.5,135.6L380.0,135.2L379.5,134.9L379.0,134.4L378.5,133.8L378.0,133.0L377.9,132.5L377.8,131.5L378.0,130.5L378.2,130.0L378.5,129.5L379.0,128.9L379.5,128.3L380.0,127.9L380.5,127.5L381.3,127.0L382.0,126.7L382.5,126.4L383.5,126.1L384.0,125.9L385.0,125.7L386.0,125.6L387.0,125.5L388.0,125.6L389.0,125.7L390.0,125.8L390.8,126.0L391.5,126.2L392.5,126.5L393.0,126.7L393.8,127.0L394.5,127.3L395.0,127.6L395.6,128.0L396.3,128.5L396.9,129.0L397.4,129.5L397.8,130.0L398.1,130.5L398.5,131.5L398.6,132.0L398.5,133.0L398.4,133.5L398.0,134.3L397.5,134.9L397.0,135.3L396.5,135.7L396.0,136.0L395.0,136.5L394.5,136.7L393.6,137.0L393.0,137.1L392.0,137.4L391.0,137.5L390.5,137.5Z" stroke="#0b7734"/><path d="M392.0,136.1L391.0,136.3L390.0,136.4L389.0,136.4L388.0,136.4L387.0,136.3L386.0,136.2L385.0,136.0L384.5,135.9L383.5,135.6L383.0,135.3L382.3,135.0L381.5,134.5L381.0,134.1L380.5,133.6L380.1,133.0L379.9,132.5L379.9,131.5L380.0,131.0L380.5,130.0L381.0,129.5L381.5,129.0L382.0,128.7L382.5,128.4L383.3,128.0L384.0,127.8L385.0,127.5L385.5,127.4L386.5,127.3L387.5,127.2L388.5,127.3L389.5,127.4L390.1,127.5L391.0,127.7L392.0,128.0L392.5,128.2L393.3,128.5L394.0,128.9L394.5,129.2L395.0,129.5L395.5,130.0L396.0,130.6L396.4,131.5L396.6,132.0L396.5,132.9L396.3,133.5L395.9,134.0L395.4,134.5L394.8,135.0L394.0,135.4L393.5,135.6L392.5,135.9L392.0,136.1Z" stroke="#005f26"/><path d="M388.5,135.0L388.0,135.0L387.0,134.9L386.0,134.7L385.2,134.5L384.5,134.2L384.0,134.0L383.3,133.5L382.8,133.0L382.5,132.2L382.5,131.7L382.8,131.0L383.2,130.5L383.8,130.0L384.5,129.7L385.0,129.5L386.0,129.2L387.0,129.1L388.0,129.0L389.0,129.1L390.0,129.3L391.0,129.5L391.5,129.7L392.2,130.0L392.9,130.5L393.5,131.0L393.8,131.5L393.9,132.5L393.5,133.4L393.0,133.8L392.5,134.1L391.7,134.5L391.0,134.7L390.0,134.9L389.0,135.0L388.5,135.0Z" stroke="#00441b"/></g>
<g fill="none" stroke-width="1.7" stroke-linejoin="round"><path d="M186.5,282.5L185.5,282.5L184.5,282.6L183.5,282.5L182.5,282.5L181.7,282.5L181.0,282.5L180.0,282.4L179.0,282.4L178.0,282.4L177.0,282.3L176.0,282.3L175.0,282.2L174.0,282.2L173.0,282.1L172.0,282.0L171.5,282.0L170.5,281.9L169.5,281.8L168.5,281.7L167.5,281.5L167.0,281.5L166.0,281.3L165.0,281.2L164.0,281.0L163.5,280.9L162.5,280.7L161.6,280.5L161.0,280.4L160.0,280.1L159.4,280.0L158.5,279.8L157.5,279.5L157.0,279.4L156.0,279.1L155.5,278.9L154.5,278.6L154.0,278.4L153.0,278.1L152.5,277.9L151.5,277.6L151.0,277.4L150.0,277.0L149.5,276.8L148.6,276.5L148.0,276.3L147.3,276.0L146.5,275.7L146.0,275.5L145.0,275.1L144.5,274.9L143.6,274.5L143.0,274.2L142.5,274.0L141.5,273.6L141.0,273.4L140.1,273.0L139.5,272.7L139.0,272.5L138.0,272.1L137.5,271.9L136.7,271.5L136.0,271.2L135.5,271.0L134.5,270.5L134.0,270.3L133.3,270.0L132.5,269.7L132.0,269.4L131.1,269.0L130.5,268.7L130.0,268.5L129.0,268.0L128.5,267.8L127.8,267.5L127.0,267.1L126.5,266.9L125.8,266.5L125.0,266.1L124.5,265.9L123.8,265.5L123.0,265.1L122.5,264.9L121.8,264.5L121.0,264.1L120.5,263.8L119.9,263.5L119.0,263.0L118.5,262.7L118.0,262.4L117.3,262.0L116.5,261.6L116.0,261.3L115.5,261.0L114.7,260.5L114.0,260.1L113.5,259.8L113.0,259.5L112.3,259.0L111.5,258.5L111.0,258.2L110.5,257.9L109.9,257.5L109.2,257.0L108.5,256.5L108.0,256.2L107.5,255.8L107.0,255.5L106.3,255.0L105.6,254.5L105.0,254.1L104.5,253.7L104.0,253.3L103.5,252.9L103.0,252.5L102.3,252.0L101.7,251.5L101.1,251.0L100.5,250.5L100.0,250.1L99.5,249.7L99.0,249.3L98.5,248.8L98.0,248.4L97.5,247.9L97.0,247.5L96.5,247.0L96.0,246.5L95.4,246.0L94.9,245.5L94.4,245.0L93.9,244.5L93.5,244.0L93.0,243.5L92.5,242.9L92.0,242.4L91.5,241.8L91.0,241.2L90.5,240.5L90.1,240.0L89.7,239.5L89.3,239.0L89.0,238.5L88.5,237.7L88.0,237.0L87.8,236.5L87.5,236.0L87.0,235.0L86.8,234.5L86.5,233.9L86.2,233.0L86.0,232.3L85.8,231.5L85.7,230.5L85.7,229.5L85.8,228.5L86.0,227.7L86.3,227.0L86.6,226.5L87.0,225.9L87.5,225.4L88.0,225.0L88.7,224.5L89.5,224.1L90.0,223.9L91.0,223.5L91.5,223.4L92.5,223.2L93.5,223.0L94.0,222.9L95.0,222.8L96.0,222.8L97.0,222.8L98.0,222.8L99.0,222.8L100.0,222.9L101.0,223.0L101.5,223.0L102.5,223.2L103.5,223.3L104.5,223.4L105.0,223.5L106.0,223.7L107.0,223.9L107.5,224.0L108.5,224.2L109.5,224.5L110.0,224.6L111.0,224.8L111.6,225.0L112.5,225.2L113.4,225.5L114.0,225.7L115.0,226.0L115.5,226.1L116.5,226.4L117.0,226.6L118.0,226.9L118.5,227.1L119.5,227.4L120.0,227.6L121.0,228.0L121.5,228.2L122.4,228.5L123.0,228.7L123.7,229.0L124.5,229.3L125.0,229.5L126.0,229.9L126.5,230.1L127.3,230.5L128.0,230.8L128.5,231.0L129.5,231.4L130.0,231.7L130.7,232.0L131.5,232.4L132.0,232.6L132.9,233.0L133.5,233.3L134.0,233.5L134.9,234.0L135.5,234.3L136.0,234.5L136.9,235.0L137.5,235.3L138.0,235.6L138.8,236.0L139.5,236.4L140.0,236.6L140.7,237.0L141.5,237.5L142.0,237.7L142.5,238.0L143.3,238.5L144.0,238.9L144.5,239.2L145.1,239.5L145.9,240.0L146.5,240.4L147.0,240.7L147.6,241.0L148.4,241.5L149.0,241.9L149.5,242.2L150.0,242.5L150.7,243.0L151.5,243.5L152.0,243.8L152.5,244.1L153.0,244.5L153.8,245.0L154.5,245.5L155.0,245.8L155.5,246.1L156.0,246.5L156.7,247.0L157.5,247.5L158.0,247.9L158.5,248.2L159.0,248.6L159.6,249.0L160.3,249.5L161.0,250.0L161.5,250.4L162.0,250.7L162.5,251.1L163.1,251.5L163.8,252.0L164.4,252.5L165.0,252.9L165.5,253.3L166.0,253.6L166.5,254.0L167.1,254.5L167.8,255.0L168.4,255.5L169.0,255.9L169.5,256.3L170.0,256.7L170.5,257.1L171.0,257.5L171.6,258.0L172.3,258.5L172.9,259.0L173.5,259.5L174.0,259.9L174.5,260.3L175.0,260.7L175.5,261.1L176.1,261.5L176.7,262.0L177.4,262.5L178.0,263.0L178.5,263.4L179.0,263.7L179.5,264.1L180.0,264.5L180.7,265.0L181.5,265.5L182.0,265.9L182.5,266.2L183.0,266.5L183.7,267.0L184.5,267.5L185.0,267.9L185.5,268.2L186.0,268.5L186.8,269.0L187.5,269.5L188.0,269.8L188.5,270.2L189.0,270.5L189.7,271.0L190.3,271.5L190.9,272.0L191.5,272.5L192.0,273.0L192.5,273.5L192.9,274.0L193.3,274.5L193.7,275.0L194.0,275.6L194.4,276.5L194.6,277.0L194.7,278.0L194.5,279.0L194.3,279.5L194.0,280.0L193.5,280.6L192.9,281.0L192.0,281.5L191.5,281.7L190.5,282.0L190.0,282.1L189.0,282.3L188.0,282.4L187.0,282.5L186.5,282.5Z" stroke="#e9f7e5"/><path d="M173.0,277.0L172.0,277.1L171.0,277.3L170.0,277.3L169.0,277.3L168.0,277.4L167.0,277.3L166.0,277.3L165.0,277.2L164.0,277.1L163.0,277.0L162.5,276.9L161.5,276.8L160.5,276.6L159.8,276.5L159.0,276.4L158.0,276.1L157.4,276.0L156.5,275.8L155.5,275.6L155.0,275.4L154.0,275.1L153.5,275.0L152.5,274.7L151.8,274.5L151.0,274.2L150.3,274.0L149.5,273.7L148.8,273.5L148.0,273.2L147.4,273.0L146.5,272.6L146.0,272.5L145.0,272.1L144.5,271.9L143.6,271.5L143.0,271.2L142.4,271.0L141.5,270.6L141.0,270.4L140.1,270.0L139.5,269.7L139.0,269.5L138.0,269.1L137.5,268.8L136.7,268.5L136.0,268.2L135.5,267.9L134.5,267.5L134.0,267.3L133.4,267.0L132.5,266.6L132.0,266.4L131.2,266.0L130.5,265.7L130.0,265.4L129.1,265.0L128.5,264.7L128.0,264.5L127.0,264.0L126.5,263.8L126.0,263.5L125.0,263.0L124.5,262.8L124.0,262.5L123.0,262.0L122.5,261.7L122.0,261.4L121.2,261.0L120.5,260.6L120.0,260.3L119.4,260.0L118.5,259.5L118.0,259.2L117.5,258.9L116.8,258.5L116.0,258.0L115.5,257.7L115.0,257.4L114.4,257.0L113.7,256.5L113.0,256.1L112.5,255.7L112.0,255.4L111.4,255.0L110.7,254.5L110.0,254.0L109.5,253.6L109.0,253.3L108.5,252.9L108.0,252.5L107.3,252.0L106.7,251.5L106.0,251.0L105.5,250.6L105.0,250.2L104.5,249.7L104.0,249.3L103.5,248.9L103.0,248.4L102.5,248.0L102.0,247.5L101.4,247.0L100.9,246.5L100.4,246.0L99.9,245.5L99.4,245.0L98.9,244.5L98.5,244.0L98.0,243.4L97.5,242.9L97.0,242.3L96.5,241.6L96.0,241.0L95.7,240.5L95.3,240.0L95.0,239.5L94.5,238.7L94.1,238.0L93.8,237.5L93.5,236.8L93.2,236.0L93.0,235.4L92.7,234.5L92.6,233.5L92.6,232.5L92.7,231.5L93.0,230.8L93.4,230.0L93.8,229.5L94.3,229.0L95.0,228.5L95.5,228.3L96.0,228.0L97.0,227.7L97.6,227.5L98.5,227.3L99.5,227.2L100.5,227.1L101.5,227.0L102.5,227.0L103.5,227.1L104.5,227.1L105.5,227.2L106.5,227.3L107.5,227.5L108.0,227.5L109.0,227.7L110.0,227.9L110.6,228.0L111.5,228.2L112.5,228.4L113.0,228.5L114.0,228.8L114.8,229.0L115.5,229.2L116.5,229.5L117.0,229.6L118.0,229.9L118.5,230.1L119.5,230.4L120.0,230.6L121.0,230.9L121.5,231.1L122.5,231.5L123.0,231.7L123.9,232.0L124.5,232.2L125.2,232.5L126.0,232.8L126.5,233.0L127.5,233.5L128.0,233.7L128.7,234.0L129.5,234.3L130.0,234.6L131.0,235.0L131.5,235.2L132.0,235.5L133.0,236.0L133.5,236.2L134.1,236.5L135.0,237.0L135.5,237.2L136.1,237.5L137.0,238.0L137.5,238.2L138.0,238.5L138.9,239.0L139.5,239.3L140.0,239.6L140.7,240.0L141.5,240.5L142.0,240.7L142.5,241.0L143.3,241.5L144.0,241.9L144.5,242.2L145.0,242.5L145.7,243.0L146.5,243.5L147.0,243.8L147.5,244.1L148.1,244.5L148.9,245.0L149.5,245.4L150.0,245.7L150.5,246.1L151.1,246.5L151.9,247.0L152.5,247.4L153.0,247.8L153.5,248.1L154.0,248.5L154.8,249.0L155.5,249.5L156.0,249.9L156.5,250.2L157.0,250.6L157.5,251.0L158.2,251.5L158.9,252.0L159.5,252.4L160.0,252.8L160.5,253.2L161.0,253.6L161.6,254.0L162.2,254.5L162.9,255.0L163.5,255.5L164.0,255.9L164.5,256.3L165.0,256.7L165.5,257.1L166.0,257.5L166.5,258.0L167.1,258.5L167.7,259.0L168.3,259.5L168.8,260.0L169.4,260.5L169.9,261.0L170.4,261.5L170.9,262.0L171.5,262.5L172.0,263.0L172.5,263.5L172.9,264.0L173.4,264.5L173.9,265.0L174.4,265.5L174.8,266.0L175.2,266.5L175.7,267.0L176.1,267.5L176.5,268.0L177.0,268.7L177.5,269.4L177.9,270.0L178.2,270.5L178.5,271.2L178.8,272.0L178.9,273.0L178.7,274.0L178.5,274.5L178.0,275.0L177.4,275.5L176.5,276.0L176.0,276.2L175.2,276.5L174.5,276.7L173.5,276.9L173.0,277.0Z" stroke="#d3eecd"/><path d="M166.5,274.0L165.5,274.1L164.5,274.2L163.5,274.2L162.5,274.2L161.5,274.1L160.5,274.0L160.0,274.0L159.0,273.9L158.0,273.7L157.0,273.6L156.5,273.5L155.5,273.3L154.5,273.1L154.0,273.0L153.0,272.8L152.0,272.5L151.5,272.4L150.5,272.1L150.0,271.9L149.0,271.6L148.5,271.5L147.5,271.1L147.0,271.0L146.0,270.6L145.5,270.4L144.5,270.0L144.0,269.8L143.2,269.5L142.5,269.2L142.0,269.0L141.0,268.6L140.5,268.3L139.7,268.0L139.0,267.7L138.5,267.4L137.5,267.0L137.0,266.8L136.5,266.5L135.5,266.1L135.0,265.8L134.3,265.5L133.5,265.1L133.0,264.9L132.1,264.5L131.5,264.2L131.0,264.0L130.0,263.5L129.5,263.3L129.0,263.0L128.0,262.5L127.5,262.3L126.9,262.0L126.0,261.5L125.5,261.3L124.9,261.0L124.0,260.5L123.5,260.3L123.0,260.0L122.1,259.5L121.5,259.2L121.0,258.9L120.3,258.5L119.5,258.0L119.0,257.7L118.5,257.4L117.8,257.0L117.0,256.5L116.5,256.2L116.0,255.9L115.4,255.5L114.7,255.0L114.0,254.5L113.5,254.2L113.0,253.9L112.5,253.5L111.8,253.0L111.1,252.5L110.5,252.0L110.0,251.7L109.5,251.3L109.0,250.9L108.5,250.5L107.9,250.0L107.3,249.5L106.7,249.0L106.1,248.5L105.6,248.0L105.0,247.5L104.5,247.0L104.0,246.5L103.5,246.0L103.0,245.5L102.5,245.0L102.1,244.5L101.6,244.0L101.2,243.5L100.8,243.0L100.4,242.5L100.0,242.0L99.5,241.3L99.0,240.6L98.6,240.0L98.3,239.5L98.0,238.9L97.6,238.0L97.4,237.5L97.1,236.5L96.9,236.0L96.8,235.0L96.9,234.0L97.0,233.5L97.4,232.5L97.7,232.0L98.2,231.5L98.9,231.0L99.5,230.7L100.0,230.4L101.0,230.1L101.5,230.0L102.5,229.8L103.5,229.7L104.5,229.7L105.5,229.6L106.5,229.7L107.5,229.7L108.5,229.8L109.5,230.0L110.0,230.0L111.0,230.2L112.0,230.4L112.6,230.5L113.5,230.7L114.5,230.9L115.0,231.0L116.0,231.3L116.8,231.5L117.5,231.7L118.5,232.0L119.0,232.1L120.0,232.5L120.5,232.6L121.5,233.0L122.0,233.1L123.0,233.5L123.5,233.7L124.3,234.0L125.0,234.3L125.6,234.5L126.5,234.9L127.0,235.1L128.0,235.5L128.5,235.7L129.2,236.0L130.0,236.4L130.5,236.6L131.4,237.0L132.0,237.3L132.5,237.5L133.5,238.0L134.0,238.3L134.5,238.5L135.4,239.0L136.0,239.3L136.5,239.6L137.3,240.0L138.0,240.4L138.5,240.6L139.1,241.0L140.0,241.5L140.5,241.8L141.0,242.1L141.8,242.5L142.5,242.9L143.0,243.2L143.5,243.6L144.2,244.0L145.0,244.5L145.5,244.8L146.0,245.1L146.6,245.5L147.3,246.0L148.0,246.4L148.5,246.8L149.0,247.1L149.6,247.5L150.3,248.0L151.0,248.5L151.5,248.8L152.0,249.2L152.5,249.5L153.2,250.0L153.8,250.5L154.5,251.0L155.0,251.3L155.5,251.7L156.0,252.1L156.6,252.5L157.2,253.0L157.9,253.5L158.5,254.0L159.0,254.4L159.5,254.8L160.0,255.2L160.5,255.6L161.0,256.0L161.6,256.5L162.2,257.0L162.8,257.5L163.4,258.0L163.9,258.5L164.5,259.0L165.0,259.5L165.5,260.0L166.0,260.5L166.5,261.0L167.0,261.5L167.4,262.0L167.9,262.5L168.3,263.0L168.7,263.5L169.1,264.0L169.5,264.5L170.0,265.2L170.5,265.9L170.9,266.5L171.2,267.0L171.5,267.6L171.9,268.5L172.0,269.0L172.2,270.0L172.1,271.0L171.9,271.5L171.5,272.0L171.0,272.5L170.3,273.0L169.5,273.3L169.0,273.5L168.0,273.8L167.0,274.0L166.5,274.0Z" stroke="#b8e3b2"/><path d="M163.5,271.0L162.5,271.2L161.5,271.4L160.5,271.4L159.5,271.5L158.5,271.5L157.5,271.4L156.5,271.4L155.5,271.3L154.5,271.2L153.5,271.0L153.0,270.9L152.0,270.8L151.0,270.5L150.5,270.4L149.5,270.2L148.8,270.0L148.0,269.8L147.2,269.5L146.5,269.3L145.7,269.0L145.0,268.7L144.4,268.5L143.5,268.2L143.0,267.9L142.0,267.5L141.5,267.3L140.8,267.0L140.0,266.6L139.5,266.4L138.6,266.0L138.0,265.7L137.5,265.5L136.5,265.0L136.0,264.8L135.5,264.5L134.5,264.0L134.0,263.8L133.4,263.5L132.5,263.1L132.0,262.8L131.3,262.5L130.5,262.1L130.0,261.9L129.2,261.5L128.5,261.1L128.0,260.9L127.2,260.5L126.5,260.1L126.0,259.9L125.2,259.5L124.5,259.1L124.0,258.9L123.4,258.5L122.5,258.0L122.0,257.8L121.5,257.5L120.7,257.0L120.0,256.6L119.5,256.3L119.0,256.0L118.2,255.5L117.5,255.1L117.0,254.7L116.5,254.4L115.9,254.0L115.2,253.5L114.5,253.0L114.0,252.7L113.5,252.3L113.0,252.0L112.4,251.5L111.7,251.0L111.1,250.5L110.5,250.0L110.0,249.6L109.5,249.2L109.0,248.8L108.5,248.3L108.0,247.9L107.5,247.4L107.0,247.0L106.5,246.5L106.0,246.0L105.5,245.5L105.0,244.9L104.5,244.4L104.0,243.8L103.5,243.2L103.0,242.5L102.6,242.0L102.3,241.5L102.0,241.0L101.5,240.2L101.1,239.5L100.9,239.0L100.6,238.0L100.4,237.5L100.3,236.5L100.4,235.5L100.5,234.9L101.0,234.0L101.4,233.5L102.0,233.0L102.5,232.8L103.1,232.5L104.0,232.2L104.9,232.0L105.5,231.9L106.5,231.8L107.5,231.8L108.5,231.8L109.5,231.9L110.5,232.0L111.0,232.0L112.0,232.1L113.0,232.3L114.0,232.5L114.5,232.6L115.5,232.8L116.3,233.0L117.0,233.2L118.0,233.4L118.5,233.6L119.5,233.9L120.0,234.0L121.0,234.3L121.5,234.5L122.5,234.9L123.0,235.0L124.0,235.4L124.5,235.6L125.5,236.0L126.0,236.2L126.8,236.5L127.5,236.8L128.0,237.0L129.0,237.4L129.5,237.6L130.3,238.0L131.0,238.3L131.5,238.6L132.4,239.0L133.0,239.3L133.5,239.5L134.4,240.0L135.0,240.3L135.5,240.6L136.3,241.0L137.0,241.4L137.5,241.6L138.2,242.0L139.0,242.5L139.5,242.8L140.0,243.0L140.8,243.5L141.5,243.9L142.0,244.2L142.5,244.5L143.3,245.0L144.0,245.5L144.5,245.8L145.0,246.1L145.6,246.5L146.4,247.0L147.0,247.4L147.5,247.8L148.0,248.1L148.6,248.5L149.3,249.0L150.0,249.5L150.5,249.9L151.0,250.2L151.5,250.6L152.1,251.0L152.8,251.5L153.4,252.0L154.0,252.4L154.5,252.8L155.0,253.2L155.5,253.6L156.0,254.0L156.7,254.5L157.3,255.0L157.9,255.5L158.5,256.0L159.0,256.5L159.5,256.9L160.0,257.3L160.5,257.8L161.0,258.3L161.5,258.8L162.0,259.3L162.5,259.8L163.0,260.3L163.5,260.9L164.0,261.5L164.4,262.0L164.8,262.5L165.1,263.0L165.5,263.6L166.0,264.4L166.3,265.0L166.5,265.5L166.9,266.5L167.0,267.3L167.0,267.9L166.9,268.5L166.5,269.3L166.0,269.8L165.5,270.2L164.9,270.5L164.0,270.9L163.5,271.0Z" stroke="#98d594"/><path d="M157.5,269.0L156.5,269.2L155.5,269.2L154.5,269.3L153.5,269.2L152.5,269.2L151.5,269.0L151.0,269.0L150.0,268.8L149.0,268.6L148.5,268.5L147.5,268.2L146.8,268.0L146.0,267.8L145.2,267.5L144.5,267.2L143.9,267.0L143.0,266.6L142.5,266.4L141.5,266.0L141.0,265.8L140.4,265.5L139.5,265.1L139.0,264.8L138.3,264.5L137.5,264.1L137.0,263.8L136.3,263.5L135.5,263.1L135.0,262.8L134.3,262.5L133.5,262.1L133.0,261.8L132.3,261.5L131.5,261.1L131.0,260.8L130.3,260.5L129.5,260.1L129.0,259.9L128.3,259.5L127.5,259.1L127.0,258.9L126.3,258.5L125.5,258.1L125.0,257.8L124.4,257.5L123.5,257.0L123.0,256.7L122.5,256.4L121.7,256.0L121.0,255.6L120.5,255.3L120.0,255.0L119.2,254.5L118.5,254.0L118.0,253.7L117.5,253.4L116.9,253.0L116.2,252.5L115.5,252.0L115.0,251.6L114.5,251.3L114.0,250.9L113.5,250.5L112.8,250.0L112.2,249.5L111.6,249.0L111.0,248.5L110.5,248.0L110.0,247.6L109.5,247.1L109.0,246.6L108.5,246.1L108.0,245.6L107.5,245.1L107.0,244.5L106.5,244.0L106.1,243.5L105.8,243.0L105.4,242.5L105.0,241.9L104.5,241.1L104.2,240.5L104.0,240.0L103.6,239.0L103.5,238.3L103.5,237.5L103.5,237.0L103.9,236.0L104.2,235.5L104.7,235.0L105.5,234.5L106.0,234.3L107.0,234.0L107.5,233.9L108.5,233.8L109.5,233.8L110.5,233.8L111.5,233.8L112.5,233.9L113.3,234.0L114.0,234.1L115.0,234.3L116.0,234.5L116.5,234.6L117.5,234.8L118.2,235.0L119.0,235.2L120.0,235.5L120.5,235.6L121.5,235.9L122.0,236.1L123.0,236.4L123.5,236.6L124.5,237.0L125.0,237.2L125.8,237.5L126.5,237.8L127.1,238.0L128.0,238.4L128.5,238.6L129.4,239.0L130.0,239.3L130.5,239.5L131.5,240.0L132.0,240.2L132.6,240.5L133.5,240.9L134.0,241.2L134.6,241.5L135.5,242.0L136.0,242.2L136.5,242.5L137.4,243.0L138.0,243.3L138.5,243.6L139.2,244.0L140.0,244.5L140.5,244.8L141.0,245.1L141.7,245.5L142.5,246.0L143.0,246.3L143.5,246.6L144.1,247.0L144.8,247.5L145.5,247.9L146.0,248.3L146.5,248.6L147.1,249.0L147.8,249.5L148.5,250.0L149.0,250.4L149.5,250.7L150.0,251.1L150.5,251.5L151.2,252.0L151.9,252.5L152.5,253.0L153.0,253.4L153.5,253.8L154.0,254.2L154.5,254.6L155.0,255.0L155.6,255.5L156.1,256.0L156.7,256.5L157.2,257.0L157.7,257.5L158.2,258.0L158.7,258.5L159.2,259.0L159.6,259.5L160.0,260.0L160.5,260.6L161.0,261.3L161.4,262.0L161.7,262.5L162.0,263.2L162.3,264.0L162.5,265.0L162.4,266.0L162.0,266.8L161.5,267.4L161.0,267.8L160.5,268.1L159.6,268.5L159.0,268.7L158.0,268.9L157.5,269.0Z" stroke="#73c476"/><path d="M154.5,267.1L153.5,267.3L152.5,267.4L151.5,267.4L150.5,267.3L149.5,267.2L148.5,267.1L148.0,267.0L147.0,266.8L146.1,266.5L145.5,266.3L144.5,266.0L144.0,265.8L143.2,265.5L142.5,265.2L142.0,265.0L141.0,264.5L140.5,264.3L139.9,264.0L139.0,263.6L138.5,263.3L137.9,263.0L137.0,262.5L136.5,262.2L136.0,262.0L135.1,261.5L134.5,261.2L134.0,260.9L133.2,260.5L132.5,260.1L132.0,259.8L131.3,259.5L130.5,259.1L130.0,258.8L129.4,258.5L128.5,258.1L128.0,257.8L127.4,257.5L126.5,257.0L126.0,256.8L125.5,256.5L124.6,256.0L124.0,255.7L123.5,255.4L122.8,255.0L122.0,254.5L121.5,254.3L121.0,253.9L120.3,253.5L119.5,253.0L119.0,252.7L118.5,252.4L118.0,252.0L117.3,251.5L116.6,251.0L116.0,250.6L115.5,250.2L115.0,249.8L114.5,249.4L113.9,249.0L113.3,248.5L112.8,248.0L112.2,247.5L111.7,247.0L111.1,246.5L110.6,246.0L110.2,245.5L109.7,245.0L109.3,244.5L108.9,244.0L108.5,243.5L108.0,242.8L107.5,242.0L107.2,241.5L107.0,241.0L106.7,240.0L106.6,239.0L106.7,238.0L107.0,237.4L107.5,236.9L108.0,236.5L109.0,236.1L109.5,235.9L110.5,235.8L111.5,235.7L112.5,235.7L113.5,235.7L114.5,235.8L115.5,236.0L116.0,236.0L117.0,236.2L118.0,236.4L118.5,236.6L119.5,236.8L120.2,237.0L121.0,237.2L121.9,237.5L122.5,237.7L123.4,238.0L124.0,238.2L124.8,238.5L125.5,238.8L126.1,239.0L127.0,239.4L127.5,239.6L128.5,240.0L129.0,240.2L129.7,240.5L130.5,240.9L131.0,241.1L131.8,241.5L132.5,241.8L133.0,242.1L133.8,242.5L134.5,242.8L135.0,243.1L135.7,243.5L136.5,243.9L137.0,244.2L137.6,244.5L138.5,245.0L139.0,245.3L139.5,245.6L140.2,246.0L141.0,246.5L141.5,246.8L142.0,247.1L142.6,247.5L143.4,248.0L144.0,248.4L144.5,248.7L145.0,249.0L145.7,249.5L146.4,250.0L147.0,250.4L147.5,250.8L148.0,251.2L148.5,251.5L149.1,252.0L149.8,252.5L150.4,253.0L151.0,253.5L151.5,253.9L152.0,254.3L152.5,254.7L153.0,255.2L153.5,255.6L154.0,256.1L154.5,256.6L155.0,257.1L155.5,257.6L156.0,258.2L156.5,258.8L157.0,259.5L157.3,260.0L157.6,260.5L158.0,261.2L158.3,262.0L158.5,262.9L158.5,263.5L158.4,264.0L158.0,264.9L157.5,265.5L157.0,266.0L156.5,266.3L156.0,266.6L155.0,266.9L154.5,267.1Z" stroke="#4bb062"/><path d="M151.5,265.5L150.5,265.7L149.5,265.7L148.5,265.6L147.5,265.5L147.0,265.4L146.0,265.2L145.3,265.0L144.5,264.8L143.8,264.5L143.0,264.2L142.5,264.0L141.5,263.5L141.0,263.3L140.4,263.0L139.5,262.5L139.0,262.3L138.5,262.0L137.6,261.5L137.0,261.1L136.5,260.9L135.9,260.5L135.0,260.0L134.5,259.7L134.0,259.4L133.3,259.0L132.5,258.5L132.0,258.3L131.5,258.0L130.6,257.5L130.0,257.2L129.5,256.9L128.7,256.5L128.0,256.1L127.5,255.9L126.8,255.5L126.0,255.1L125.5,254.8L124.9,254.5L124.0,254.0L123.5,253.7L123.0,253.4L122.3,253.0L121.5,252.5L121.0,252.2L120.5,251.9L119.9,251.5L119.2,251.0L118.5,250.5L118.0,250.2L117.5,249.8L117.0,249.4L116.4,249.0L115.8,248.5L115.2,248.0L114.6,247.5L114.1,247.0L113.6,246.5L113.1,246.0L112.6,245.5L112.2,245.0L111.7,244.5L111.4,244.0L111.0,243.5L110.5,242.6L110.2,242.0L110.0,241.4L109.8,240.5L110.0,239.5L110.3,239.0L110.8,238.5L111.5,238.2L112.0,238.0L113.0,237.8L114.0,237.7L115.0,237.7L116.0,237.8L117.0,237.9L117.6,238.0L118.5,238.2L119.5,238.4L120.0,238.5L121.0,238.8L121.8,239.0L122.5,239.2L123.4,239.5L124.0,239.7L124.9,240.0L125.5,240.2L126.2,240.5L127.0,240.8L127.5,241.0L128.5,241.5L129.0,241.7L129.7,242.0L130.5,242.4L131.0,242.6L131.9,243.0L132.5,243.3L133.0,243.6L133.9,244.0L134.5,244.3L135.0,244.6L135.8,245.0L136.5,245.4L137.0,245.6L137.6,246.0L138.5,246.5L139.0,246.8L139.5,247.0L140.3,247.5L141.0,247.9L141.5,248.2L142.0,248.5L142.7,249.0L143.5,249.5L144.0,249.8L144.5,250.2L145.0,250.5L145.7,251.0L146.4,251.5L147.0,252.0L147.5,252.3L148.0,252.7L148.5,253.1L149.0,253.5L149.6,254.0L150.1,254.5L150.7,255.0L151.2,255.5L151.7,256.0L152.2,256.5L152.6,257.0L153.1,257.5L153.5,258.1L154.0,258.8L154.4,259.5L154.7,260.0L155.0,261.0L155.1,261.5L155.1,262.5L154.9,263.0L154.5,263.7L154.0,264.3L153.5,264.7L153.0,265.0L152.0,265.4L151.5,265.5Z" stroke="#2f974e"/><path d="M148.5,264.0L147.5,264.0L147.0,264.0L146.0,263.8L145.0,263.6L144.5,263.5L143.5,263.1L143.0,262.9L142.0,262.5L141.5,262.3L141.0,262.0L140.0,261.5L139.5,261.2L139.0,260.9L138.3,260.5L137.5,260.0L137.0,259.7L136.5,259.3L136.0,259.0L135.2,258.5L134.5,258.0L134.0,257.7L133.5,257.4L132.9,257.0L132.1,256.5L131.5,256.1L131.0,255.8L130.4,255.5L129.5,255.0L129.0,254.7L128.5,254.4L127.7,254.0L127.0,253.6L126.5,253.4L125.8,253.0L125.0,252.6L124.5,252.3L124.0,252.0L123.1,251.5L122.5,251.1L122.0,250.8L121.5,250.5L120.8,250.0L120.0,249.5L119.5,249.1L119.0,248.7L118.5,248.4L118.0,248.0L117.4,247.5L116.9,247.0L116.4,246.5L115.9,246.0L115.4,245.5L115.0,245.0L114.5,244.3L114.0,243.5L113.8,243.0L113.7,242.0L114.0,241.0L114.5,240.6L115.0,240.3L116.0,240.1L117.0,240.0L118.0,240.1L119.0,240.2L120.0,240.3L120.8,240.5L121.5,240.7L122.5,240.9L123.0,241.1L124.0,241.4L124.5,241.6L125.5,241.9L126.0,242.1L126.9,242.5L127.5,242.7L128.1,243.0L129.0,243.4L129.5,243.6L130.4,244.0L131.0,244.3L131.5,244.5L132.5,245.0L133.0,245.3L133.5,245.5L134.5,246.0L135.0,246.2L135.5,246.5L136.5,247.0L137.0,247.3L137.5,247.5L138.4,248.0L139.0,248.3L139.5,248.6L140.2,249.0L141.0,249.5L141.5,249.8L142.0,250.1L142.7,250.5L143.5,251.0L144.0,251.4L144.5,251.7L145.0,252.1L145.6,252.5L146.3,253.0L146.9,253.5L147.5,254.0L148.0,254.4L148.5,254.9L149.0,255.4L149.5,255.9L150.0,256.5L150.4,257.0L150.8,257.5L151.2,258.0L151.5,258.6L151.9,259.5L152.0,260.0L152.1,261.0L152.0,261.8L151.6,262.5L151.2,263.0L150.5,263.5L150.0,263.7L149.0,263.9L148.5,264.0Z" stroke="#157f3b"/><path d="M147.5,262.1L146.5,262.2L145.5,262.1L144.7,262.0L144.0,261.8L143.0,261.5L142.5,261.3L141.9,261.0L141.0,260.6L140.5,260.3L140.0,260.0L139.3,259.5L138.5,259.0L138.0,258.6L137.5,258.3L137.0,257.9L136.5,257.5L135.9,257.0L135.2,256.5L134.6,256.0L134.0,255.5L133.5,255.1L133.0,254.7L132.5,254.3L132.0,254.0L131.3,253.5L130.6,253.0L130.0,252.6L129.5,252.3L128.9,252.0L128.0,251.5L127.5,251.2L127.0,251.0L126.2,250.5L125.5,250.1L125.0,249.8L124.4,249.5L123.6,249.0L123.0,248.6L122.5,248.3L122.0,247.9L121.5,247.5L120.9,247.0L120.4,246.5L120.0,246.0L119.5,245.3L119.2,244.5L119.5,243.8L120.1,243.5L121.0,243.4L122.0,243.5L122.5,243.5L123.5,243.7L124.4,244.0L125.0,244.2L125.9,244.5L126.5,244.7L127.2,245.0L128.0,245.3L128.5,245.5L129.5,246.0L130.0,246.2L130.7,246.5L131.5,246.9L132.0,247.1L133.0,247.5L133.5,247.7L134.1,248.0L135.0,248.4L135.5,248.6L136.5,249.0L137.0,249.2L137.6,249.5L138.5,249.9L139.0,250.1L139.7,250.5L140.5,250.9L141.0,251.2L141.6,251.5L142.4,252.0L143.0,252.4L143.5,252.7L144.0,253.0L144.6,253.5L145.3,254.0L145.9,254.5L146.4,255.0L146.9,255.5L147.4,256.0L147.8,256.5L148.2,257.0L148.5,257.5L149.0,258.4L149.2,259.0L149.3,260.0L149.0,261.0L148.6,261.5L148.0,261.9L147.5,262.1Z" stroke="#006428"/><path d="M145.5,259.5L144.5,259.8L143.5,259.7L142.9,259.5L142.0,259.1L141.5,258.9L140.9,258.5L140.2,258.0L139.5,257.5L139.0,257.0L138.5,256.5L138.0,256.0L137.6,255.5L137.2,255.0L137.0,254.5L136.6,253.5L137.0,252.8L138.0,252.6L139.0,252.7L140.0,253.0L140.5,253.2L141.2,253.5L142.0,253.9L142.5,254.2L143.0,254.5L143.6,255.0L144.2,255.5L144.7,256.0L145.1,256.5L145.5,257.0L146.0,258.0L146.1,258.5L146.0,259.0L145.5,259.5Z" stroke="#00441b"/></g>
<g fill="none" stroke-width="1.5" stroke-linejoin="round"><path d="M246.5,244.6L245.5,244.7L244.5,244.7L243.5,244.6L242.6,244.5L242.0,244.4L241.0,244.2L240.1,244.0L239.5,243.9L238.5,243.6L238.0,243.4L237.0,243.1L236.5,242.9L235.6,242.5L235.0,242.2L234.5,242.0L233.5,241.5L233.0,241.3L232.4,241.0L231.5,240.6L231.0,240.3L230.4,240.0L229.5,239.5L229.0,239.2L228.5,238.9L227.9,238.5L227.2,238.0L226.6,237.5L226.0,237.0L225.5,236.5L225.0,236.0L224.6,235.5L224.2,235.0L223.8,234.5L223.5,234.0L223.0,233.1L222.7,232.5L222.5,232.0L222.1,231.0L221.9,230.5L221.7,229.5L221.5,228.5L221.4,228.0L221.3,227.0L221.2,226.0L221.1,225.0L221.0,224.3L220.8,223.5L220.5,222.9L220.0,222.1L219.5,221.5L219.1,221.0L218.7,220.5L218.2,220.0L217.8,219.5L217.4,219.0L217.0,218.1L216.8,217.5L216.9,216.5L217.2,216.0L217.7,215.5L218.5,215.0L219.0,214.8L219.8,214.5L220.5,214.3L221.5,214.1L222.2,214.0L223.0,213.9L224.0,213.8L225.0,213.7L226.0,213.7L227.0,213.6L228.0,213.5L228.6,213.5L229.5,213.4L230.5,213.3L231.5,213.3L232.5,213.2L233.5,213.1L234.5,213.1L235.5,213.1L236.5,213.1L237.5,213.2L238.5,213.5L239.0,213.6L240.0,213.8L240.9,214.0L241.5,214.1L242.5,214.4L243.0,214.5L244.0,214.8L244.5,215.0L245.5,215.5L246.0,215.7L246.5,216.1L247.1,216.5L247.7,217.0L248.2,217.5L248.6,218.0L249.0,218.5L249.5,219.4L249.8,220.0L250.0,220.5L250.4,221.5L250.6,222.0L251.0,222.9L251.3,223.5L251.5,224.0L252.0,224.9L252.3,225.5L252.6,226.0L253.0,227.0L253.2,227.5L253.5,228.3L253.7,229.0L253.9,230.0L254.0,230.5L254.2,231.5L254.3,232.5L254.3,233.5L254.3,234.5L254.1,235.5L254.0,236.2L253.8,237.0L253.5,238.0L253.3,238.5L253.0,239.3L252.6,240.0L252.3,240.5L252.0,241.0L251.5,241.6L251.0,242.2L250.5,242.6L250.0,243.1L249.4,243.5L248.5,244.0L248.0,244.2L247.0,244.5L246.5,244.6ZM242.0,264.1L241.0,264.4L240.0,264.4L239.0,264.2L238.5,264.0L237.7,263.5L237.2,263.0L236.9,262.5L236.5,261.5L236.5,261.0L236.5,260.5L236.9,259.5L237.2,259.0L237.7,258.5L238.5,258.0L239.0,257.8L240.0,257.6L241.0,257.6L242.0,257.9L242.5,258.2L243.0,258.6L243.5,259.1L243.9,260.0L244.1,260.5L244.1,261.5L243.9,262.0L243.5,262.9L243.0,263.4L242.5,263.8L242.0,264.1Z" stroke="#fee5d8"/><path d="M247.0,242.1L246.0,242.3L245.0,242.4L244.0,242.3L243.0,242.2L242.2,242.0L241.5,241.8L240.6,241.5L240.0,241.3L239.4,241.0L238.5,240.6L238.0,240.3L237.5,240.0L236.7,239.5L236.0,239.0L235.5,238.6L235.0,238.2L234.5,237.8L234.0,237.3L233.5,236.9L233.0,236.5L232.5,236.0L231.9,235.5L231.3,235.0L230.8,234.5L230.3,234.0L229.8,233.5L229.3,233.0L228.9,232.5L228.5,231.9L228.0,231.1L227.7,230.5L227.4,230.0L227.1,229.0L227.0,228.5L226.8,227.5L226.7,226.5L226.6,225.5L226.6,224.5L226.5,223.5L226.5,223.0L226.3,222.0L226.0,221.1L225.8,220.5L225.7,219.5L226.0,218.7L226.5,218.3L227.3,218.0L228.0,217.8L229.0,217.7L230.0,217.6L231.0,217.5L231.5,217.5L232.5,217.4L233.5,217.3L234.5,217.1L235.2,217.0L236.0,216.8L237.0,216.6L237.6,216.5L238.5,216.4L239.5,216.3L240.5,216.2L241.5,216.3L242.5,216.4L243.0,216.5L244.0,216.8L244.5,217.0L245.3,217.5L246.0,218.0L246.5,218.4L247.0,219.0L247.3,219.5L247.6,220.0L248.0,220.9L248.2,221.5L248.5,222.4L248.7,223.0L249.0,223.8L249.3,224.5L249.6,225.0L250.0,225.6L250.5,226.4L250.8,227.0L251.1,227.5L251.5,228.4L251.7,229.0L252.0,229.8L252.2,230.5L252.4,231.5L252.5,232.5L252.5,233.5L252.4,234.5L252.3,235.5L252.1,236.5L251.9,237.0L251.5,238.0L251.2,238.5L250.9,239.0L250.5,239.6L250.0,240.2L249.5,240.7L249.0,241.1L248.4,241.5L247.5,242.0L247.0,242.1Z" stroke="#fdcab5"/><path d="M246.0,241.0L245.0,241.1L244.2,241.0L243.5,240.9L242.5,240.7L241.9,240.5L241.0,240.2L240.5,239.9L239.7,239.5L239.0,239.1L238.5,238.8L238.0,238.4L237.5,238.0L237.0,237.5L236.5,237.0L236.0,236.5L235.5,235.9L235.0,235.2L234.5,234.5L234.1,234.0L233.8,233.5L233.5,233.0L233.0,232.3L232.5,231.5L232.2,231.0L231.9,230.5L231.5,229.6L231.3,229.0L231.0,228.1L230.9,227.5L230.8,226.5L230.8,225.5L231.0,224.5L231.1,224.0L231.5,223.1L231.8,222.5L232.2,222.0L232.7,221.5L233.2,221.0L233.9,220.5L234.5,220.1L235.0,219.7L235.5,219.4L236.1,219.0L237.0,218.5L237.5,218.3L238.1,218.0L239.0,217.7L240.0,217.5L240.5,217.5L241.5,217.4L242.2,217.5L243.0,217.6L244.0,218.0L244.5,218.3L245.0,218.6L245.5,219.0L246.0,219.6L246.5,220.4L246.8,221.0L247.0,221.8L247.2,222.5L247.4,223.5L247.6,224.0L248.0,224.9L248.4,225.5L248.7,226.0L249.1,226.5L249.5,227.1L250.0,227.9L250.3,228.5L250.6,229.0L250.9,230.0L251.1,230.5L251.3,231.5L251.4,232.5L251.5,233.5L251.4,234.5L251.2,235.5L251.0,236.3L250.8,237.0L250.5,237.6L250.0,238.4L249.5,239.0L249.1,239.5L248.5,240.0L248.0,240.3L247.5,240.6L246.5,240.9L246.0,241.0Z" stroke="#fcab8f"/><path d="M246.0,240.0L245.0,240.1L244.3,240.0L243.5,239.9L242.5,239.6L242.0,239.4L241.1,239.0L240.5,238.7L240.0,238.4L239.5,238.0L238.9,237.5L238.3,237.0L237.9,236.5L237.4,236.0L237.0,235.4L236.5,234.6L236.2,234.0L236.0,233.5L235.6,232.5L235.4,232.0L235.2,231.0L235.0,230.2L234.9,229.5L234.8,228.5L234.9,227.5L235.0,226.5L235.0,226.0L235.2,225.0L235.3,224.0L235.5,223.3L235.7,222.5L236.0,221.8L236.5,221.0L236.9,220.5L237.3,220.0L238.0,219.5L238.5,219.2L239.0,218.9L240.0,218.6L240.5,218.4L241.5,218.4L242.5,218.5L243.0,218.6L243.9,219.0L244.5,219.4L245.0,219.9L245.4,220.5L245.7,221.0L246.0,222.0L246.1,222.5L246.2,223.5L246.4,224.5L246.6,225.0L247.0,225.6L247.5,226.2L248.0,226.7L248.5,227.3L249.0,228.0L249.3,228.5L249.6,229.0L250.0,229.8L250.3,230.5L250.5,231.5L250.6,232.0L250.7,233.0L250.7,234.0L250.5,235.0L250.4,235.5L250.1,236.5L249.9,237.0L249.5,237.6L249.0,238.3L248.5,238.8L248.0,239.2L247.5,239.5L246.5,239.9L246.0,240.0Z" stroke="#fc8a6a"/><path d="M246.5,239.0L245.5,239.2L244.5,239.2L243.6,239.0L243.0,238.8L242.1,238.5L241.5,238.2L241.0,237.9L240.4,237.5L239.8,237.0L239.3,236.5L238.9,236.0L238.5,235.5L238.0,234.6L237.7,234.0L237.5,233.3L237.3,232.5L237.2,231.5L237.2,230.5L237.4,229.5L237.6,229.0L238.0,228.1L238.3,227.5L238.5,227.0L238.6,226.0L238.4,225.5L238.0,224.5L237.8,224.0L237.7,223.0L237.8,222.0L238.0,221.5L238.5,220.7L239.0,220.2L239.5,219.8L240.2,219.5L241.0,219.3L242.0,219.3L242.9,219.5L243.5,219.8L244.0,220.2L244.5,220.8L244.8,221.5L245.0,222.5L245.0,223.0L245.0,223.5L244.9,224.5L245.0,225.1L245.5,225.9L246.0,226.3L246.5,226.7L247.0,227.1L247.5,227.5L248.0,228.0L248.5,228.6L249.0,229.4L249.3,230.0L249.5,230.5L249.8,231.5L250.0,232.5L250.0,233.0L250.0,233.7L249.9,234.5L249.7,235.5L249.5,236.1L249.0,237.0L248.7,237.5L248.2,238.0L247.6,238.5L247.0,238.9L246.5,239.0Z" stroke="#fb694a"/><path d="M242.5,224.5L241.5,224.7L241.0,224.5L240.2,224.0L239.8,223.5L239.5,223.0L239.4,222.0L239.6,221.5L240.0,220.9L240.7,220.5L241.5,220.3L242.5,220.4L243.0,220.7L243.5,221.3L243.8,222.0L243.7,223.0L243.5,223.5L243.0,224.2L242.5,224.5ZM247.0,238.0L246.0,238.4L245.0,238.4L244.0,238.3L243.0,238.0L242.5,237.8L241.9,237.5L241.2,237.0L240.6,236.5L240.1,236.0L239.8,235.5L239.4,235.0L239.0,234.0L238.8,233.5L238.7,232.5L238.7,231.5L239.0,230.5L239.2,230.0L239.6,229.5L240.0,229.0L240.5,228.5L241.1,228.0L241.8,227.5L242.5,227.2L243.5,227.1L244.5,227.2L245.5,227.4L246.0,227.6L246.7,228.0L247.4,228.5L247.9,229.0L248.2,229.5L248.6,230.0L249.0,231.0L249.2,231.5L249.3,232.5L249.4,233.5L249.3,234.5L249.0,235.5L248.8,236.0L248.5,236.6L248.0,237.2L247.5,237.7L247.0,238.0Z" stroke="#f14432"/><path d="M246.0,237.6L245.0,237.6L244.0,237.5L243.5,237.3L242.7,237.0L242.0,236.6L241.5,236.2L241.0,235.6L240.5,235.0L240.3,234.5L240.0,233.6L239.9,233.0L239.9,232.0L240.1,231.5L240.5,230.6L240.9,230.0L241.4,229.5L242.0,229.1L242.5,228.8L243.5,228.5L244.0,228.4L245.0,228.4L245.6,228.5L246.5,228.8L247.0,229.2L247.5,229.7L248.0,230.4L248.3,231.0L248.5,231.5L248.7,232.5L248.8,233.5L248.7,234.5L248.5,235.1L248.1,236.0L247.7,236.5L247.2,237.0L246.5,237.4L246.0,237.6Z" stroke="#d92523"/><path d="M246.5,236.6L245.5,236.9L244.5,236.8L243.5,236.5L243.0,236.2L242.5,235.9L242.0,235.4L241.5,234.7L241.2,234.0L241.0,233.1L241.0,232.9L241.1,232.0L241.5,231.2L242.0,230.6L242.5,230.1L243.0,229.8L243.9,229.5L244.5,229.4L245.5,229.4L246.0,229.6L246.7,230.0L247.2,230.5L247.6,231.0L248.0,232.0L248.1,232.5L248.2,233.5L248.0,234.5L247.9,235.0L247.5,235.7L247.0,236.2L246.5,236.6Z" stroke="#bc141a"/><path d="M246.5,235.6L245.5,236.0L244.5,235.9L243.5,235.5L243.0,235.1L242.5,234.5L242.3,234.0L242.1,233.0L242.4,232.0L242.7,231.5L243.2,231.0L244.0,230.6L244.5,230.5L245.5,230.4L246.0,230.6L246.6,231.0L247.0,231.5L247.4,232.5L247.5,233.5L247.3,234.5L247.0,235.1L246.5,235.6Z" stroke="#980c13"/><path d="M246.0,234.6L245.0,234.8L244.2,234.5L243.7,234.0L243.6,233.0L244.0,232.2L244.5,231.8L245.5,231.7L246.0,232.0L246.5,232.8L246.6,233.5L246.5,234.0L246.0,234.6Z" stroke="#67000d"/></g>
<rect x="62.6" y="24.6" width="199.9" height="148.0" fill="none" stroke="#303030" stroke-width="1.1"/><line x1="57.9" y1="34.4" x2="62.6" y2="34.4" stroke="#303030" stroke-width="1.1"/><line x1="57.9" y1="96.7" x2="62.6" y2="96.7" stroke="#303030" stroke-width="1.1"/><line x1="57.9" y1="159.3" x2="62.6" y2="159.3" stroke="#303030" stroke-width="1.1"/><rect x="302.6" y="24.6" width="200.0" height="148.0" fill="none" stroke="#303030" stroke-width="1.1"/><line x1="318.5" y1="172.6" x2="318.5" y2="177.29999999999998" stroke="#303030" stroke-width="1.1"/><line x1="402.6" y1="172.6" x2="402.6" y2="177.29999999999998" stroke="#303030" stroke-width="1.1"/><line x1="486.9" y1="172.6" x2="486.9" y2="177.29999999999998" stroke="#303030" stroke-width="1.1"/><rect x="62.6" y="203.0" width="199.9" height="147.7" fill="none" stroke="#303030" stroke-width="1.1"/><line x1="68.4" y1="350.7" x2="68.4" y2="355.4" stroke="#303030" stroke-width="1.1"/><line x1="164.0" y1="350.7" x2="164.0" y2="355.4" stroke="#303030" stroke-width="1.1"/><line x1="259.4" y1="350.7" x2="259.4" y2="355.4" stroke="#303030" stroke-width="1.1"/><line x1="57.9" y1="206.3" x2="62.6" y2="206.3" stroke="#303030" stroke-width="1.1"/><line x1="57.9" y1="278.4" x2="62.6" y2="278.4" stroke="#303030" stroke-width="1.1"/><line x1="57.9" y1="350.7" x2="62.6" y2="350.7" stroke="#303030" stroke-width="1.1"/>
<rect x="520.8" y="27" width="163.3" height="93.5" rx="3" ry="3" fill="#fff" stroke="#d0d0d0" stroke-width="1.1"/><rect x="528.7" y="36.3" width="40" height="13.7" fill="#008000"/><rect x="528.7" y="65.8" width="40" height="13.7" fill="#0000ff"/><rect x="528.7" y="95.2" width="40" height="13.7" fill="#ff0000"/>
<text x="0.5" y="16" font-size="27" text-anchor="start" font-weight="bold" font-family="'Liberation Sans','DejaVu Sans',sans-serif">a</text>
<text x="279.3" y="20.4" font-size="27" text-anchor="start" font-weight="bold" font-family="'Liberation Sans','DejaVu Sans',sans-serif">b</text>
<text x="0.8" y="211" font-size="27" text-anchor="start" font-weight="bold" font-family="'Liberation Sans','DejaVu Sans',sans-serif">c</text>
<text x="161.5" y="16" font-size="19.4" text-anchor="middle" font-weight="normal" font-family="'DejaVu Sans','Liberation Sans',sans-serif">A549</text>
<text x="402.5" y="16" font-size="19.4" text-anchor="middle" font-weight="normal" font-family="'DejaVu Sans','Liberation Sans',sans-serif">Brain</text>
<text x="162.2" y="194" font-size="19.4" text-anchor="middle" font-weight="normal" font-family="'DejaVu Sans','Liberation Sans',sans-serif">H1</text>
<text x="52" y="41.1" font-size="18" text-anchor="end" font-weight="normal" font-family="'DejaVu Sans','Liberation Sans',sans-serif">1.0</text>
<text x="52" y="104.10000000000001" font-size="18" text-anchor="end" font-weight="normal" font-family="'DejaVu Sans','Liberation Sans',sans-serif">0.5</text>
<text x="52" y="166.9" font-size="18" text-anchor="end" font-weight="normal" font-family="'DejaVu Sans','Liberation Sans',sans-serif">0.0</text>
<text x="52" y="213.4" font-size="18" text-anchor="end" font-weight="normal" font-family="'DejaVu Sans','Liberation Sans',sans-serif">1.0</text>
<text x="52" y="285.79999999999995" font-size="18" text-anchor="end" font-weight="normal" font-family="'DejaVu Sans','Liberation Sans',sans-serif">0.5</text>
<text x="52" y="358.2" font-size="18" text-anchor="end" font-weight="normal" font-family="'DejaVu Sans','Liberation Sans',sans-serif">0.0</text>
<text x="318.2" y="196.4" font-size="18" text-anchor="middle" font-weight="normal" font-family="'DejaVu Sans','Liberation Sans',sans-serif">0.0</text>
<text x="402.2" y="196.4" font-size="18" text-anchor="middle" font-weight="normal" font-family="'DejaVu Sans','Liberation Sans',sans-serif">0.5</text>
<text x="486.7" y="196.4" font-size="18" text-anchor="middle" font-weight="normal" font-family="'DejaVu Sans','Liberation Sans',sans-serif">1.0</text>
<text x="68.1" y="374.4" font-size="18" text-anchor="middle" font-weight="normal" font-family="'DejaVu Sans','Liberation Sans',sans-serif">0.0</text>
<text x="163.6" y="374.4" font-size="18" text-anchor="middle" font-weight="normal" font-family="'DejaVu Sans','Liberation Sans',sans-serif">0.5</text>
<text x="259.1" y="374.4" font-size="18" text-anchor="middle" font-weight="normal" font-family="'DejaVu Sans','Liberation Sans',sans-serif">1.0</text>
<text x="402.7" y="221.6" font-size="19.6" text-anchor="middle" font-weight="normal" font-family="'DejaVu Sans','Liberation Sans',sans-serif">Recall</text>
<text x="162.8" y="398.7" font-size="19.6" text-anchor="middle" font-weight="normal" font-family="'DejaVu Sans','Liberation Sans',sans-serif">Recall</text>
<text x="15.2" y="100.8" font-size="19.5" text-anchor="middle" font-weight="normal" font-family="'DejaVu Sans','Liberation Sans',sans-serif" transform="rotate(-90 15.2 100.8)">Precision</text>
<text x="15.2" y="279" font-size="19.5" text-anchor="middle" font-weight="normal" font-family="'DejaVu Sans','Liberation Sans',sans-serif" transform="rotate(-90 15.2 279)">Precision</text>
<text x="583.8" y="50.3" font-size="19.6" text-anchor="start" font-weight="normal" font-family="'DejaVu Sans','Liberation Sans',sans-serif">Promoter</text>
<text x="583.8" y="79.9" font-size="19.6" text-anchor="start" font-weight="normal" font-family="'DejaVu Sans','Liberation Sans',sans-serif">Enhancer</text>
<text x="583.8" y="108.6" font-size="19.6" text-anchor="start" font-weight="normal" font-family="'DejaVu Sans','Liberation Sans',sans-serif">Weak</text>
</svg>
</body></html>
